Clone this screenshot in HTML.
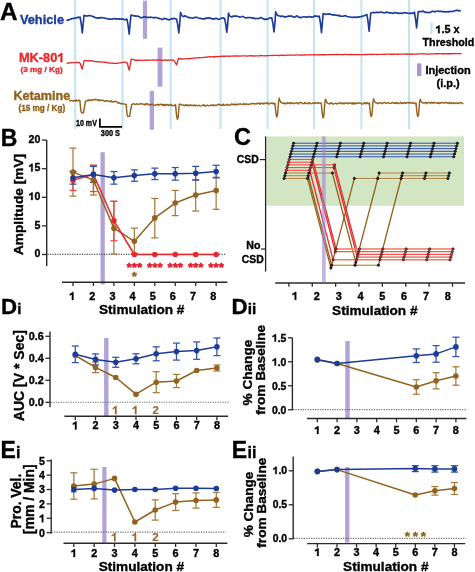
<!DOCTYPE html>
<html><head><meta charset="utf-8"><style>
html,body{margin:0;padding:0;background:#fff;width:475px;height:572px;overflow:hidden}
svg{display:block;will-change:transform}
text{font-family:"Liberation Sans",sans-serif;font-weight:bold}
</style></head><body>
<svg width="475" height="572" viewBox="0 0 475 572">
<rect x="0" y="0" width="475" height="572" fill="#fff"/>
<rect x="142.90" y="0.70" width="4.20" height="38.10" fill="#b2a3d6"/>
<rect x="157.60" y="47.60" width="4.80" height="39.10" fill="#b2a3d6"/>
<rect x="149.70" y="91.00" width="4.30" height="38.70" fill="#b2a3d6"/>
<rect x="100.50" y="152.20" width="4.30" height="132.30" fill="#b2a3d6"/>
<rect x="104.10" y="338.00" width="4.40" height="78.00" fill="#b2a3d6"/>
<rect x="345.30" y="341.00" width="4.40" height="77.50" fill="#b2a3d6"/>
<rect x="102.30" y="467.00" width="4.20" height="75.60" fill="#b2a3d6"/>
<rect x="345.10" y="467.00" width="4.30" height="75.60" fill="#b2a3d6"/>
<rect x="74.20" y="0.00" width="2.00" height="129.00" fill="#c2e4f0" />
<rect x="121.50" y="0.00" width="2.00" height="129.00" fill="#c2e4f0" />
<rect x="169.70" y="0.00" width="2.00" height="129.00" fill="#c2e4f0" />
<rect x="219.50" y="0.00" width="2.00" height="129.00" fill="#c2e4f0" />
<rect x="266.60" y="0.00" width="2.00" height="129.00" fill="#c2e4f0" />
<rect x="313.00" y="0.00" width="2.00" height="129.00" fill="#c2e4f0" />
<rect x="360.40" y="0.00" width="2.00" height="129.00" fill="#c2e4f0" />
<rect x="408.00" y="0.00" width="2.00" height="129.00" fill="#c2e4f0" />
<polyline points="66.50,20.73 67.30,20.18 68.10,20.18 68.90,19.76 69.70,19.58 70.50,19.01 71.30,19.00 72.10,18.51 72.90,18.51 73.70,18.56 74.50,17.89 75.30,18.02 76.10,18.08 76.90,17.65 77.70,17.35 78.50,17.12 79.30,17.75 80.10,17.49 80.10,17.03 81.30,24.08 82.30,32.93 83.20,23.76 84.00,15.23 84.80,15.59 85.90,15.93 87.30,16.05 88.10,15.66 88.90,15.61 89.70,15.76 90.50,15.63 91.30,16.07 92.10,16.26 92.90,16.47 93.70,17.04 94.50,17.06 95.30,17.59 96.10,18.07 96.90,17.98 97.70,17.70 98.50,18.15 99.30,17.77 100.10,17.93 100.90,17.48 101.70,17.63 102.50,17.79 103.30,17.95 104.10,17.93 104.90,18.22 105.70,18.35 106.50,18.49 107.30,18.65 108.10,18.98 108.90,19.16 109.70,18.96 110.50,19.18 111.30,19.21 112.10,19.02 112.90,19.09 113.70,18.82 114.50,18.57 115.30,18.90 116.10,18.62 116.90,19.05 117.70,18.83 118.50,18.77 119.30,19.21 120.10,18.86 120.90,18.97 121.70,19.30 122.50,18.80 123.30,19.18 124.10,19.57 124.90,19.55 125.70,19.60 126.50,19.18 127.00,19.24 128.20,25.89 129.20,34.18 130.10,24.00 130.90,15.28 131.70,15.16 132.80,15.52 134.20,15.90 135.00,15.87 135.80,16.10 136.60,16.03 137.40,16.12 138.20,16.29 139.00,16.63 139.80,17.15 140.60,17.65 141.40,17.86 142.20,17.47 143.00,17.22 143.80,16.85 144.60,16.73 145.40,16.82 146.20,17.45 147.00,17.37 147.80,17.42 148.60,17.35 149.40,17.43 150.20,17.18 151.00,17.31 151.80,17.30 152.60,17.49 153.40,17.84 154.20,17.69 155.00,17.40 155.80,17.48 156.60,17.70 157.40,17.72 158.20,18.38 159.00,18.32 159.80,18.67 160.60,18.75 161.40,19.10 162.20,19.39 163.00,19.47 163.80,18.75 164.60,18.37 165.40,18.72 166.20,18.79 167.00,19.37 167.80,19.36 168.60,19.93 169.40,19.68 170.20,19.38 171.00,18.93 171.80,18.65 172.60,18.89 173.40,18.58 174.20,18.39 175.00,18.55 175.80,19.16 176.60,18.99 177.80,25.13 178.80,32.92 179.70,24.12 180.50,12.35 181.30,14.40 182.40,16.09 183.80,16.69 184.60,15.82 185.40,15.88 186.20,16.48 187.00,16.54 187.80,17.26 188.60,17.68 189.40,17.57 190.20,17.67 191.00,17.85 191.80,18.01 192.60,18.09 193.40,17.95 194.20,17.60 195.00,17.16 195.80,17.44 196.60,17.16 197.40,17.71 198.20,17.99 199.00,18.23 199.80,18.31 200.60,18.37 201.40,18.59 202.20,18.89 203.00,18.99 203.80,18.60 204.60,18.85 205.40,18.57 206.20,18.07 207.00,17.91 207.80,18.32 208.60,18.17 209.40,17.66 210.20,18.23 211.00,18.41 211.80,18.60 212.60,19.11 213.40,18.81 214.20,19.15 215.00,18.65 215.80,18.21 216.60,18.33 217.40,18.98 218.20,19.31 219.00,19.30 219.80,18.95 220.60,18.54 221.40,18.39 222.20,18.00 223.00,17.81 223.80,18.32 224.60,18.44 225.80,24.67 226.80,32.43 227.70,24.19 228.50,13.14 229.30,15.36 230.40,16.52 231.80,17.01 232.60,16.51 233.40,16.10 234.20,16.32 235.00,15.90 235.80,16.09 236.60,16.25 237.40,16.12 238.20,16.51 239.00,16.80 239.80,17.22 240.60,17.01 241.40,16.64 242.20,16.49 243.00,16.47 243.80,16.87 244.60,17.37 245.40,17.85 246.20,17.90 247.00,17.72 247.80,17.61 248.60,17.62 249.40,17.48 250.20,17.50 251.00,17.85 251.80,17.75 252.60,18.11 253.40,17.92 254.20,18.37 255.00,18.81 255.80,18.43 256.60,18.50 257.40,18.79 258.20,18.62 259.00,18.14 259.80,18.15 260.60,17.85 261.40,17.48 262.20,18.29 263.00,18.71 263.80,18.82 264.60,19.50 265.40,19.00 266.20,19.41 267.00,19.04 267.80,19.07 268.60,18.68 269.40,17.95 270.20,17.95 271.00,17.79 271.80,17.88 273.00,24.05 274.00,31.89 274.90,23.08 275.70,11.88 276.50,13.90 277.60,15.24 279.00,15.96 279.80,15.95 280.60,16.53 281.40,16.39 282.20,16.00 283.00,16.36 283.80,16.48 284.60,17.22 285.40,16.78 286.20,16.67 287.00,16.68 287.80,16.32 288.60,15.84 289.40,16.37 290.20,16.18 291.00,15.90 291.80,16.13 292.60,16.79 293.40,16.87 294.20,17.32 295.00,16.85 295.80,16.68 296.60,15.94 297.40,16.00 298.20,16.92 299.00,17.07 299.80,17.40 300.60,17.80 301.40,17.25 302.20,17.05 303.00,17.00 303.80,16.93 304.60,16.99 305.40,16.93 306.20,17.08 307.00,16.95 307.80,17.12 308.60,16.68 309.40,16.63 310.20,16.92 311.00,16.88 311.80,17.19 312.60,17.23 313.40,16.75 314.20,16.16 315.00,16.28 315.80,15.84 316.60,16.40 317.40,16.24 318.20,16.55 319.00,16.14 319.30,16.20 320.50,23.45 321.50,32.59 322.40,22.33 323.20,13.69 324.00,13.76 325.10,14.13 326.50,14.35 327.30,13.96 328.10,13.92 328.90,14.35 329.70,14.03 330.50,14.01 331.30,14.65 332.10,14.81 332.90,14.82 333.70,14.69 334.50,14.87 335.30,15.13 336.10,15.26 336.90,15.17 337.70,15.65 338.50,15.69 339.30,15.34 340.10,16.09 340.90,15.95 341.70,16.26 342.50,16.27 343.30,16.16 344.10,16.00 344.90,15.63 345.70,15.78 346.50,16.28 347.30,16.51 348.10,16.77 348.90,16.80 349.70,17.02 350.50,17.02 351.30,17.23 352.10,17.36 352.90,17.29 353.70,17.31 354.50,17.12 355.30,17.12 356.10,17.59 356.90,17.08 357.70,17.25 358.50,16.68 359.30,17.02 360.10,16.73 360.90,16.69 361.70,16.60 362.50,16.03 363.30,16.03 364.10,15.85 364.90,15.43 365.70,15.05 366.50,14.83 366.90,14.47 368.10,22.01 369.10,31.19 370.00,21.12 370.80,12.96 371.60,12.78 372.70,12.47 374.10,12.59 374.90,12.68 375.70,12.53 376.50,12.15 377.30,12.60 378.10,12.35 378.90,12.31 379.70,12.34 380.50,12.01 381.30,12.24 382.10,12.22 382.90,12.43 383.70,12.83 384.50,12.77 385.30,12.76 386.10,12.28 386.90,12.05 387.70,12.42 388.50,12.71 389.30,12.84 390.10,12.70 390.90,12.83 391.70,12.99 392.50,13.40 393.30,13.29 394.10,12.77 394.90,12.65 395.70,12.63 396.50,12.97 397.30,13.15 398.10,13.08 398.90,13.42 399.70,13.33 400.50,13.02 401.30,13.43 402.10,13.39 402.90,13.25 403.70,12.53 404.50,12.70 405.30,13.04 406.10,12.92 406.90,13.02 407.70,13.19 408.50,13.26 409.30,13.48 410.10,13.17 410.90,13.39 411.70,13.06 412.50,13.43 413.30,13.14 414.10,13.18 414.40,12.10 415.60,19.44 416.60,27.99 417.50,18.85 418.30,11.50 419.10,11.60 420.20,11.60 421.60,11.57 422.40,11.18 423.20,11.13 424.00,11.87 424.80,12.18 425.60,11.97 426.40,12.51 427.20,12.69 428.00,12.35 428.80,12.46 429.60,12.70 430.40,12.17 431.20,11.75 432.00,11.42 432.80,11.27 433.60,11.31 434.40,11.79 435.20,11.83 436.00,11.30 436.80,11.23 437.60,11.30 438.40,11.14 439.20,11.45 440.00,11.34 440.80,11.23 441.60,11.43 442.40,11.65 443.20,11.59 444.00,11.47 444.80,11.94 445.60,11.78 446.40,12.00 447.20,11.71 448.00,11.50 448.80,12.02 449.60,11.45 450.40,11.49 451.20,11.33 452.00,11.48 452.80,11.50 453.60,11.14 454.40,10.76 455.20,10.77 456.00,10.37 456.80,10.38 457.60,10.42 458.40,10.89 459.20,10.45 460.00,10.90 460.80,10.96" fill="none" stroke="#1c3c98" stroke-width="1.65" stroke-linejoin="round" />
<polyline points="66.50,63.21 67.50,63.10 68.50,63.01 69.50,62.90 70.50,62.86 71.50,62.73 72.50,62.68 73.50,62.61 74.50,62.58 75.50,62.57 76.50,62.50 77.50,62.40 78.50,62.33 78.80,62.35 80.30,63.56 81.60,67.81 82.30,69.15 83.10,65.27 84.10,60.60 85.80,60.52 88.30,60.89 89.30,60.72 90.30,60.72 91.30,60.79 92.30,60.96 93.30,61.12 94.30,61.31 95.30,61.48 96.30,61.69 97.30,61.75 98.30,61.83 99.30,61.78 100.30,61.83 101.30,61.99 102.30,62.09 103.30,62.13 104.30,62.25 105.30,62.28 106.30,62.48 107.30,62.71 108.30,62.84 109.30,62.97 110.30,63.12 111.30,63.12 112.30,63.15 113.30,63.22 114.30,63.35 115.30,63.44 116.30,63.37 117.30,63.22 118.30,63.05 119.30,62.91 120.30,62.71 121.30,62.58 122.30,62.36 123.30,62.34 124.30,62.16 125.30,62.14 125.80,62.02 127.30,63.14 128.60,68.51 129.30,70.16 130.10,65.50 131.10,59.27 132.80,59.41 135.30,60.26 136.30,60.28 137.30,60.24 138.30,60.21 139.30,60.28 140.30,60.44 141.30,60.38 142.30,60.30 143.30,60.19 144.30,60.20 145.30,60.20 146.30,60.28 147.30,60.24 148.30,60.15 149.30,60.11 150.30,60.18 151.30,60.13 152.30,60.06 153.30,60.00 154.30,60.06 155.30,60.07 156.30,60.03 157.30,60.04 158.30,60.13 159.30,60.22 160.30,60.19 161.30,60.24 162.30,60.31 163.30,60.22 164.30,60.15 165.30,60.03 166.30,60.19 167.30,60.26 168.30,60.25 169.30,60.14 170.30,60.18 171.30,60.02 172.30,60.04 173.10,60.00 174.60,61.48 175.90,63.93 176.60,64.82 177.40,62.30 178.40,58.46 180.10,58.74 182.60,59.22 183.60,58.93 184.60,58.87 185.60,58.81 186.60,58.64 187.60,58.67 188.60,58.64 189.60,58.71 190.60,58.53 191.60,58.45 192.60,58.30 193.60,58.15 194.60,58.02 195.60,57.90 196.60,57.81 197.60,57.79 198.60,57.73 199.60,57.60 200.60,57.57 201.60,57.64 202.60,57.54 203.60,57.36 204.60,57.36 205.60,57.21 206.60,57.10 207.60,56.99 208.60,56.87 209.60,56.76 210.60,56.79 211.60,56.84 212.60,56.97 213.60,56.77 214.60,56.75 215.60,56.48 216.60,56.48 217.60,56.61 218.60,56.66 219.60,56.53 220.60,56.34 221.60,56.29 222.60,56.22 223.60,56.29 224.60,56.17 225.60,56.27 226.60,56.14 227.60,56.19 228.60,56.25 229.60,56.25 230.60,56.15 231.60,56.09 232.60,56.01 233.60,56.05 234.60,55.90 235.60,55.96 236.60,55.96 237.60,55.91 238.60,55.96 239.60,56.12 240.60,56.04 241.60,55.91 242.60,55.90 243.60,55.85 244.60,55.92 245.60,55.95 246.60,56.06 247.60,56.02 248.60,55.91 249.60,55.93 250.60,55.77 251.60,55.79 252.60,55.84 253.60,55.96 254.60,56.00 255.60,55.92 256.60,55.90 257.60,55.91 258.60,55.84 259.60,55.76 260.60,55.51 261.60,55.61 262.60,55.70 263.60,55.81 264.60,55.83 265.60,55.78 266.60,55.72 267.60,55.66 268.60,55.58 269.60,55.56 270.60,55.41 271.60,55.42 272.60,55.49 273.60,55.35 274.60,55.30 275.60,55.34 276.60,55.31 277.60,55.44 278.60,55.46 279.60,55.47 280.60,55.33 281.60,55.27 282.60,55.29 283.60,55.39 284.60,55.47 285.60,55.38 286.60,55.24 287.60,55.15 288.60,55.12 289.60,55.11 290.60,55.10 291.60,55.13 292.60,55.15 293.60,55.11 294.60,55.18 295.60,54.99 296.60,54.93 297.60,54.91 298.60,55.06 299.60,55.07 300.60,55.08 301.60,55.03 302.60,54.96 303.60,55.05 304.60,54.99 305.60,54.94 306.60,54.91 307.60,54.95 308.60,54.82 309.60,54.78 310.60,54.90 311.60,54.91 312.60,54.92 313.60,54.71 314.60,54.69 315.60,54.75 316.60,54.81 317.60,54.87 318.60,54.76 319.60,54.79 320.60,54.76 321.60,54.86 322.60,54.75 323.60,54.75 324.60,54.65 325.60,54.74 326.60,54.69 327.60,54.64 328.60,54.66 329.60,54.64 330.60,54.50 331.60,54.58 332.60,54.59 333.60,54.54 334.60,54.57 335.60,54.54 336.60,54.54 337.60,54.52 338.60,54.54 339.60,54.57 340.60,54.55 341.60,54.57 342.60,54.58 343.60,54.55 344.60,54.39 345.60,54.41 346.60,54.46 347.60,54.61 348.60,54.58 349.60,54.48 350.60,54.47 351.60,54.51 352.60,54.55 353.60,54.58 354.60,54.53 355.60,54.57 356.60,54.68 357.60,54.63 358.60,54.59 359.60,54.56 360.60,54.65 361.60,54.57 362.60,54.62 363.60,54.56 364.60,54.51 365.60,54.52 366.60,54.51 367.60,54.42 368.60,54.39 369.60,54.47 370.60,54.38 371.60,54.33 372.60,54.46 373.60,54.39 374.60,54.45 375.60,54.39 376.60,54.46 377.60,54.40 378.60,54.35 379.60,54.33 380.60,54.41 381.60,54.42 382.60,54.45 383.60,54.32 384.60,54.34 385.60,54.22 386.60,54.16 387.60,54.09 388.60,54.14 389.60,54.20 390.60,54.29 391.60,54.18 392.60,54.25 393.60,54.27 394.60,54.24 395.60,54.07 396.60,54.06 397.60,54.22 398.60,54.27 399.60,54.19 400.60,54.09 401.60,54.18 402.60,54.06 403.60,54.09 404.60,54.00 405.60,54.06 406.60,54.04 407.60,54.21 408.60,54.16 409.60,54.20 410.60,54.28 411.60,54.27 412.60,54.17 413.60,54.17 414.60,54.18 415.60,54.18 416.60,54.14 417.60,54.03 418.60,53.93 419.60,53.89 420.60,53.88 421.60,53.77 422.60,53.87 423.60,53.95 424.60,53.90 425.60,54.08 426.60,54.00 427.60,54.07 428.60,54.07 429.60,54.03 430.60,53.90 431.60,53.84 432.60,53.82 433.60,53.80 434.60,53.83 435.60,53.78 436.60,53.75 437.60,53.66 438.60,53.72 439.60,53.68 440.60,53.62 441.60,53.72 442.60,53.78 443.60,53.78 444.60,53.76 445.60,53.81 446.60,53.76 447.60,53.75 448.60,53.78 449.60,53.71 450.60,53.74 451.60,53.71 452.60,53.61 453.60,53.66 454.60,53.54 455.60,53.60 456.60,53.60 457.60,53.57 458.60,53.51 459.60,53.59 460.60,53.57 461.60,53.66" fill="none" stroke="#e52a2e" stroke-width="1.35" stroke-linejoin="round" />
<polyline points="69.40,99.81 70.20,100.98 71.00,100.47 71.80,100.61 72.60,100.76 73.40,101.01 74.20,100.37 75.00,100.44 75.80,101.21 76.60,99.97 77.40,100.77 78.20,100.77 79.00,99.93 79.80,100.75 79.90,100.67 80.80,110.52 81.60,112.71 83.40,112.95 84.40,107.26 85.60,101.02 87.40,100.67 88.20,99.82 89.00,100.68 89.80,100.44 90.60,99.94 91.40,100.57 92.20,99.77 93.00,99.82 93.80,99.79 94.60,100.03 95.40,99.24 96.20,99.64 97.00,99.71 97.80,99.98 98.60,100.45 99.40,99.79 100.20,100.63 101.00,100.13 101.80,100.35 102.60,100.12 103.40,100.53 104.20,101.28 105.00,100.92 105.80,101.20 106.60,100.64 107.40,100.71 108.20,100.77 109.00,101.26 109.80,101.42 110.60,101.71 111.40,100.76 112.20,101.80 113.00,102.12 113.80,101.73 114.60,101.13 115.40,101.61 116.20,101.38 117.00,101.82 117.80,103.02 118.60,102.76 119.40,103.01 120.20,103.37 121.00,103.72 121.80,103.49 122.60,103.67 123.40,103.87 124.20,104.14 125.00,104.18 125.80,104.48 126.10,104.18 127.00,114.17 127.80,116.40 129.60,116.35 130.60,110.58 131.80,104.39 133.60,103.65 134.40,104.20 135.20,104.44 136.00,104.11 136.80,103.75 137.60,104.42 138.40,104.40 139.20,104.13 140.00,103.74 140.80,103.84 141.60,104.04 142.40,103.93 143.20,104.13 144.00,104.46 144.80,104.91 145.60,103.71 146.40,104.47 147.20,103.76 148.00,103.91 148.80,104.92 149.60,104.63 150.40,105.14 151.20,104.52 152.00,103.95 152.80,104.51 153.60,104.83 154.40,105.35 155.20,105.45 156.00,104.78 156.80,104.73 157.60,104.33 158.40,105.13 159.20,104.56 160.00,104.51 160.80,104.33 161.60,104.33 162.40,105.29 163.20,104.51 164.00,105.70 164.80,104.48 165.60,105.59 166.40,104.56 167.20,104.41 168.00,105.41 168.80,104.75 169.60,105.45 170.40,104.69 171.20,104.51 172.00,105.53 172.80,105.46 173.60,105.67 174.40,105.50 175.20,104.61 175.60,105.25 176.50,115.09 177.30,119.20 178.10,118.00 179.20,104.69 179.80,103.93 180.40,104.44 181.60,104.92 183.10,105.09 183.90,105.51 184.70,105.75 185.50,104.73 186.30,105.06 187.10,105.66 187.90,104.88 188.70,105.86 189.50,105.35 190.30,104.76 191.10,105.20 191.90,105.50 192.70,105.32 193.50,105.67 194.30,104.93 195.10,105.86 195.90,105.26 196.70,105.66 197.50,105.65 198.30,105.36 199.10,105.33 199.90,105.90 200.70,106.10 201.50,105.85 202.30,105.52 203.10,105.11 203.90,104.76 204.70,106.02 205.50,105.61 206.30,105.76 207.10,105.04 207.90,105.40 208.70,105.89 209.50,105.67 210.30,105.32 211.10,104.88 211.90,105.03 212.70,105.64 213.50,104.90 214.30,105.31 215.10,105.17 215.90,105.55 216.70,105.41 217.50,104.65 218.30,104.23 219.10,104.57 219.90,104.77 220.70,104.97 221.50,105.27 222.30,105.34 223.10,104.13 223.90,105.22 224.70,105.16 225.50,105.21 226.30,104.77 227.10,104.33 227.90,105.11 228.70,105.03 229.50,104.83 230.30,105.13 231.10,104.31 231.90,103.92 232.70,104.55 233.50,104.86 234.30,104.00 235.10,104.75 235.90,104.98 236.70,103.97 237.50,104.47 238.30,104.55 239.10,104.22 239.90,103.84 240.70,103.88 241.50,104.55 242.30,104.58 243.10,104.09 243.90,103.54 244.70,104.52 245.50,104.45 246.30,103.67 247.10,104.13 247.90,104.55 248.70,104.51 249.50,103.97 250.30,103.89 251.10,104.02 251.90,103.43 252.70,103.41 253.50,103.37 254.30,104.07 255.10,103.58 255.90,103.83 256.70,103.58 257.50,103.72 258.30,103.18 259.10,103.01 259.90,104.31 260.70,103.42 261.50,103.02 262.30,103.73 263.10,103.92 263.90,103.01 264.70,103.60 265.50,103.22 266.30,103.44 267.10,102.72 267.90,102.71 268.70,104.03 269.50,103.83 270.30,103.28 271.10,103.38 271.90,102.95 272.70,103.66 273.50,103.16 274.30,103.88 275.00,103.36 275.90,112.82 276.70,116.92 277.50,115.28 278.60,101.53 279.20,98.09 279.80,100.07 281.00,102.52 282.50,103.00 283.30,103.25 284.10,103.68 284.90,103.09 285.70,103.77 286.50,103.71 287.30,102.52 288.10,103.26 288.90,102.97 289.70,102.57 290.50,103.74 291.30,102.75 292.10,103.17 292.90,103.27 293.70,103.70 294.50,103.29 295.30,102.90 296.10,102.97 296.90,102.55 297.70,103.68 298.50,103.70 299.30,102.62 300.10,102.36 300.90,102.67 301.70,102.82 302.50,103.61 303.30,103.62 304.10,103.54 304.90,102.45 305.70,103.50 306.50,103.40 307.30,103.33 308.10,103.81 308.90,102.53 309.70,102.66 310.50,103.53 311.30,103.80 312.10,103.45 312.90,102.93 313.70,103.36 314.50,103.60 315.30,102.70 316.10,103.02 316.90,102.94 317.70,102.77 318.50,103.28 319.30,102.86 320.10,102.97 320.90,102.85 321.30,103.43 322.20,113.33 323.00,117.97 323.80,116.32 324.90,101.88 325.50,99.10 326.10,100.62 327.30,103.18 328.80,103.63 329.60,104.04 330.40,102.99 331.20,103.42 332.00,102.92 332.80,104.08 333.60,103.95 334.40,103.65 335.20,103.40 336.00,103.23 336.80,103.90 337.60,103.41 338.40,103.62 339.20,102.93 340.00,103.04 340.80,102.80 341.60,103.72 342.40,103.49 343.20,102.91 344.00,103.92 344.80,103.07 345.60,103.27 346.40,102.90 347.20,103.06 348.00,103.85 348.80,103.13 349.60,102.89 350.40,103.34 351.20,103.09 352.00,103.91 352.80,102.80 353.60,104.00 354.40,102.71 355.20,103.87 356.00,103.55 356.80,102.90 357.60,103.27 358.40,103.00 359.20,102.95 360.00,102.87 360.80,103.09 361.60,103.96 362.40,103.97 363.20,103.86 364.00,102.69 364.80,102.96 365.60,103.80 366.40,102.62 367.20,103.55 368.00,102.94 368.80,103.89 369.40,103.02 370.30,112.78 371.10,116.64 371.90,115.21 373.00,101.64 373.60,98.82 374.20,100.49 375.40,102.60 376.90,103.14 377.70,103.74 378.50,102.76 379.30,103.25 380.10,102.64 380.90,102.69 381.70,103.51 382.50,103.42 383.30,102.69 384.10,102.52 384.90,102.53 385.70,103.25 386.50,103.09 387.30,102.77 388.10,102.67 388.90,103.24 389.70,103.36 390.50,103.50 391.30,103.18 392.10,102.64 392.90,102.44 393.70,103.37 394.50,102.91 395.30,103.34 396.10,102.41 396.90,103.46 397.70,102.79 398.50,103.49 399.30,103.52 400.10,102.99 400.90,102.32 401.70,103.57 402.50,102.97 403.30,103.52 404.10,102.67 404.90,102.56 405.70,103.46 406.50,102.81 407.30,102.53 408.10,102.82 408.90,103.13 409.70,102.31 410.50,103.03 411.30,102.92 412.10,103.02 412.90,102.47 413.70,103.30 414.50,103.44 415.30,103.51 416.00,102.93 416.90,112.53 417.70,116.45 418.50,115.25 419.60,101.62 420.20,99.15 420.80,100.78 422.00,102.60 423.50,103.01 424.30,103.04 425.10,103.05 425.90,102.33 426.70,103.65 427.50,102.61 428.30,102.56 429.10,102.44 429.90,102.65 430.70,103.44 431.50,102.34 432.30,102.44 433.10,103.28 433.90,102.57 434.70,102.32 435.50,103.14 436.30,103.11 437.10,103.03 437.90,103.28 438.70,102.44 439.50,103.52 440.30,103.30 441.10,102.36 441.90,102.47 442.70,102.99 443.50,103.00 444.30,102.69 445.10,102.47 445.90,102.87 446.70,102.49 447.50,103.13 448.30,103.51 449.10,102.51 449.90,103.10 450.70,103.35 451.50,102.53 452.30,103.46 453.10,103.61 453.90,102.84 454.70,102.89 455.50,103.48 456.30,103.04 457.10,102.85 457.90,103.62 458.70,103.39 459.50,102.77 460.30,102.64 461.10,102.77 461.90,102.91 462.70,103.67 463.50,103.43" fill="none" stroke="#93621c" stroke-width="1.45" stroke-linejoin="round" />
<text x="0.10" y="19.60" font-size="24.3" fill="#000" stroke="#000" stroke-width="0.35" text-anchor="start" >A</text>
<text x="19.90" y="24.10" font-size="12.8" fill="#1c3c98" stroke="#1c3c98" stroke-width="0.35" text-anchor="start" >Vehicle</text>
<text x="18.90" y="62.20" font-size="12.8" fill="#e52a2e" stroke="#e52a2e" stroke-width="0.35">MK-80</text>
<path d="M0.392,0 L0.252,0 L0.252,-0.512 Q0.16,-0.45 0.052,-0.425 L0.052,-0.55 Q0.2,-0.6 0.285,-0.716 L0.392,-0.716 Z" transform="translate(57.31,62.20) scale(12.8)" fill="#e52a2e" stroke="#e52a2e" stroke-width="0.0273"/>
<text x="20.50" y="72.30" font-size="8.1" fill="#e52a2e" stroke="#e52a2e" stroke-width="0.35" text-anchor="start" textLength="42.2" lengthAdjust="spacing">(3 mg / Kg)</text>
<text x="13.50" y="100.00" font-size="12.6" fill="#93621c" stroke="#93621c" stroke-width="0.35" text-anchor="start" >Ketamine</text>
<text x="18.60" y="110.60" font-size="8.2" fill="#93621c" stroke="#93621c" stroke-width="0.35" text-anchor="start" textLength="46.6" lengthAdjust="spacing">(15 mg / Kg)</text>
<text x="76.00" y="126.20" font-size="9.2" fill="#000" stroke="#000" stroke-width="0.35" text-anchor="start" textLength="20.9" lengthAdjust="spacingAndGlyphs">10 mV</text>
<text x="100.80" y="136.00" font-size="9.0" fill="#000" stroke="#000" stroke-width="0.35" text-anchor="start" textLength="19.2" lengthAdjust="spacingAndGlyphs">300 S</text>
<polyline points="99.90,118.60 99.90,126.90 122.00,126.90" fill="none" stroke="#000" stroke-width="1.7" stroke-linejoin="round" stroke-linejoin="miter"/>
<rect x="430.40" y="22.40" width="2.20" height="12.00" fill="#c2e4f0" />
<path d="M0.392,0 L0.252,0 L0.252,-0.512 Q0.16,-0.45 0.052,-0.425 L0.052,-0.55 Q0.2,-0.6 0.285,-0.716 L0.392,-0.716 Z" transform="translate(435.40,33.20) scale(10.8)" fill="#000" stroke="#000" stroke-width="0.0324"/>
<text x="441.41" y="33.20" font-size="10.8" fill="#000" stroke="#000" stroke-width="0.35">.5 x</text>
<text x="422.60" y="46.20" font-size="10.7" fill="#000" stroke="#000" stroke-width="0.35" text-anchor="start" textLength="51.6" lengthAdjust="spacing">Threshold</text>
<rect x="417.00" y="63.40" width="4.40" height="12.60" fill="#a897d0" />
<text x="425.40" y="73.80" font-size="11" fill="#000" stroke="#000" stroke-width="0.35" text-anchor="start" >Injection</text>
<text x="448.10" y="86.60" font-size="11" fill="#000" stroke="#000" stroke-width="0.35" text-anchor="middle" >(i.p.)</text>
<text x="0.80" y="145.60" font-size="23" fill="#000" stroke="#000" stroke-width="0.35" text-anchor="start" >B</text>
<line x1="46.70" y1="140.10" x2="46.70" y2="266.00" stroke="#2a2a2a" stroke-width="1.4" />
<line x1="41.90" y1="140.10" x2="46.70" y2="140.10" stroke="#2a2a2a" stroke-width="1.3" />
<text x="40.30" y="142.80" font-size="10.6" fill="#000" stroke="#000" stroke-width="0.35" text-anchor="end" >20</text>
<line x1="41.90" y1="168.70" x2="46.70" y2="168.70" stroke="#2a2a2a" stroke-width="1.3" />
<path d="M0.392,0 L0.252,0 L0.252,-0.512 Q0.16,-0.45 0.052,-0.425 L0.052,-0.55 Q0.2,-0.6 0.285,-0.716 L0.392,-0.716 Z" transform="translate(28.51,171.40) scale(10.6)" fill="#000" stroke="#000" stroke-width="0.0330"/>
<text x="34.40" y="171.40" font-size="10.6" fill="#000" stroke="#000" stroke-width="0.35">5</text>
<line x1="41.90" y1="197.30" x2="46.70" y2="197.30" stroke="#2a2a2a" stroke-width="1.3" />
<path d="M0.392,0 L0.252,0 L0.252,-0.512 Q0.16,-0.45 0.052,-0.425 L0.052,-0.55 Q0.2,-0.6 0.285,-0.716 L0.392,-0.716 Z" transform="translate(28.51,200.00) scale(10.6)" fill="#000" stroke="#000" stroke-width="0.0330"/>
<text x="34.40" y="200.00" font-size="10.6" fill="#000" stroke="#000" stroke-width="0.35">0</text>
<line x1="41.90" y1="225.90" x2="46.70" y2="225.90" stroke="#2a2a2a" stroke-width="1.3" />
<text x="40.30" y="228.60" font-size="10.6" fill="#000" stroke="#000" stroke-width="0.35" text-anchor="end" >5</text>
<line x1="41.90" y1="254.50" x2="46.70" y2="254.50" stroke="#2a2a2a" stroke-width="1.3" />
<text x="40.30" y="257.20" font-size="10.6" fill="#000" stroke="#000" stroke-width="0.35" text-anchor="end" >0</text>
<line x1="62.00" y1="282.20" x2="227.40" y2="282.20" stroke="#2a2a2a" stroke-width="1.4" />
<line x1="73.00" y1="282.20" x2="73.00" y2="286.00" stroke="#2a2a2a" stroke-width="1.3" />
<line x1="93.45" y1="282.20" x2="93.45" y2="286.00" stroke="#2a2a2a" stroke-width="1.3" />
<line x1="113.90" y1="282.20" x2="113.90" y2="286.00" stroke="#2a2a2a" stroke-width="1.3" />
<line x1="134.35" y1="282.20" x2="134.35" y2="286.00" stroke="#2a2a2a" stroke-width="1.3" />
<line x1="154.80" y1="282.20" x2="154.80" y2="286.00" stroke="#2a2a2a" stroke-width="1.3" />
<line x1="175.25" y1="282.20" x2="175.25" y2="286.00" stroke="#2a2a2a" stroke-width="1.3" />
<line x1="195.70" y1="282.20" x2="195.70" y2="286.00" stroke="#2a2a2a" stroke-width="1.3" />
<line x1="216.15" y1="282.20" x2="216.15" y2="286.00" stroke="#2a2a2a" stroke-width="1.3" />
<path d="M0.392,0 L0.252,0 L0.252,-0.512 Q0.16,-0.45 0.052,-0.425 L0.052,-0.55 Q0.2,-0.6 0.285,-0.716 L0.392,-0.716 Z" transform="translate(69.17,300.00) scale(10.9)" fill="#000" stroke="#000" stroke-width="0.0321"/>
<text x="92.34" y="300.00" font-size="10.9" fill="#000" stroke="#000" stroke-width="0.35" text-anchor="middle" >2</text>
<text x="112.48" y="300.00" font-size="10.9" fill="#000" stroke="#000" stroke-width="0.35" text-anchor="middle" >3</text>
<text x="132.62" y="300.00" font-size="10.9" fill="#000" stroke="#000" stroke-width="0.35" text-anchor="middle" >4</text>
<text x="152.76" y="300.00" font-size="10.9" fill="#000" stroke="#000" stroke-width="0.35" text-anchor="middle" >5</text>
<text x="172.90" y="300.00" font-size="10.9" fill="#000" stroke="#000" stroke-width="0.35" text-anchor="middle" >6</text>
<text x="193.04" y="300.00" font-size="10.9" fill="#000" stroke="#000" stroke-width="0.35" text-anchor="middle" >7</text>
<text x="213.18" y="300.00" font-size="10.9" fill="#000" stroke="#000" stroke-width="0.35" text-anchor="middle" >8</text>
<text x="141.70" y="314.30" font-size="13.6" fill="#000" stroke="#000" stroke-width="0.35" text-anchor="middle" >Stimulation #</text>
<text transform="translate(22.6,204.5) rotate(-90)" font-size="13.7" fill="#000" stroke="#000" stroke-width="0.35" text-anchor="middle">Amplitude [mV]</text>
<line x1="47.50" y1="254.30" x2="226.00" y2="254.30" stroke="#222" stroke-width="1.1" stroke-dasharray="1.2 1.25"/>
<line x1="73.00" y1="148.11" x2="73.00" y2="196.16" stroke="#a57b3b" stroke-width="1.25" />
<line x1="69.50" y1="148.11" x2="76.50" y2="148.11" stroke="#a57b3b" stroke-width="1.25" />
<line x1="69.50" y1="196.16" x2="76.50" y2="196.16" stroke="#a57b3b" stroke-width="1.25" />
<line x1="93.45" y1="165.27" x2="93.45" y2="195.01" stroke="#a57b3b" stroke-width="1.25" />
<line x1="89.95" y1="165.27" x2="96.95" y2="165.27" stroke="#a57b3b" stroke-width="1.25" />
<line x1="89.95" y1="195.01" x2="96.95" y2="195.01" stroke="#a57b3b" stroke-width="1.25" />
<line x1="113.90" y1="201.30" x2="113.90" y2="253.93" stroke="#a57b3b" stroke-width="1.25" />
<line x1="110.40" y1="201.30" x2="117.40" y2="201.30" stroke="#a57b3b" stroke-width="1.25" />
<line x1="110.40" y1="253.93" x2="117.40" y2="253.93" stroke="#a57b3b" stroke-width="1.25" />
<line x1="134.35" y1="228.19" x2="134.35" y2="253.36" stroke="#a57b3b" stroke-width="1.25" />
<line x1="130.85" y1="228.19" x2="137.85" y2="228.19" stroke="#a57b3b" stroke-width="1.25" />
<line x1="130.85" y1="253.36" x2="137.85" y2="253.36" stroke="#a57b3b" stroke-width="1.25" />
<line x1="154.80" y1="198.44" x2="154.80" y2="237.91" stroke="#a57b3b" stroke-width="1.25" />
<line x1="151.30" y1="198.44" x2="158.30" y2="198.44" stroke="#a57b3b" stroke-width="1.25" />
<line x1="151.30" y1="237.91" x2="158.30" y2="237.91" stroke="#a57b3b" stroke-width="1.25" />
<line x1="175.25" y1="190.44" x2="175.25" y2="215.60" stroke="#a57b3b" stroke-width="1.25" />
<line x1="171.75" y1="190.44" x2="178.75" y2="190.44" stroke="#a57b3b" stroke-width="1.25" />
<line x1="171.75" y1="215.60" x2="178.75" y2="215.60" stroke="#a57b3b" stroke-width="1.25" />
<line x1="195.70" y1="179.57" x2="195.70" y2="211.03" stroke="#a57b3b" stroke-width="1.25" />
<line x1="192.20" y1="179.57" x2="199.20" y2="179.57" stroke="#a57b3b" stroke-width="1.25" />
<line x1="192.20" y1="211.03" x2="199.20" y2="211.03" stroke="#a57b3b" stroke-width="1.25" />
<line x1="216.15" y1="177.28" x2="216.15" y2="209.31" stroke="#a57b3b" stroke-width="1.25" />
<line x1="212.65" y1="177.28" x2="219.65" y2="177.28" stroke="#a57b3b" stroke-width="1.25" />
<line x1="212.65" y1="209.31" x2="219.65" y2="209.31" stroke="#a57b3b" stroke-width="1.25" />
<line x1="73.00" y1="171.56" x2="73.00" y2="190.44" stroke="#e8484a" stroke-width="1.25" />
<line x1="69.50" y1="171.56" x2="76.50" y2="171.56" stroke="#e8484a" stroke-width="1.25" />
<line x1="69.50" y1="190.44" x2="76.50" y2="190.44" stroke="#e8484a" stroke-width="1.25" />
<line x1="93.45" y1="165.27" x2="93.45" y2="191.58" stroke="#e8484a" stroke-width="1.25" />
<line x1="89.95" y1="165.27" x2="96.95" y2="165.27" stroke="#e8484a" stroke-width="1.25" />
<line x1="89.95" y1="191.58" x2="96.95" y2="191.58" stroke="#e8484a" stroke-width="1.25" />
<line x1="113.90" y1="201.30" x2="113.90" y2="240.77" stroke="#e8484a" stroke-width="1.25" />
<line x1="110.40" y1="201.30" x2="117.40" y2="201.30" stroke="#e8484a" stroke-width="1.25" />
<line x1="110.40" y1="240.77" x2="117.40" y2="240.77" stroke="#e8484a" stroke-width="1.25" />
<line x1="73.00" y1="171.56" x2="73.00" y2="184.14" stroke="#3050aa" stroke-width="1.25" />
<line x1="69.50" y1="171.56" x2="76.50" y2="171.56" stroke="#3050aa" stroke-width="1.25" />
<line x1="69.50" y1="184.14" x2="76.50" y2="184.14" stroke="#3050aa" stroke-width="1.25" />
<line x1="93.45" y1="166.41" x2="93.45" y2="182.43" stroke="#3050aa" stroke-width="1.25" />
<line x1="89.95" y1="166.41" x2="96.95" y2="166.41" stroke="#3050aa" stroke-width="1.25" />
<line x1="89.95" y1="182.43" x2="96.95" y2="182.43" stroke="#3050aa" stroke-width="1.25" />
<line x1="113.90" y1="171.56" x2="113.90" y2="184.14" stroke="#3050aa" stroke-width="1.25" />
<line x1="110.40" y1="171.56" x2="117.40" y2="171.56" stroke="#3050aa" stroke-width="1.25" />
<line x1="110.40" y1="184.14" x2="117.40" y2="184.14" stroke="#3050aa" stroke-width="1.25" />
<line x1="134.35" y1="169.84" x2="134.35" y2="181.28" stroke="#3050aa" stroke-width="1.25" />
<line x1="130.85" y1="169.84" x2="137.85" y2="169.84" stroke="#3050aa" stroke-width="1.25" />
<line x1="130.85" y1="181.28" x2="137.85" y2="181.28" stroke="#3050aa" stroke-width="1.25" />
<line x1="154.80" y1="168.13" x2="154.80" y2="179.57" stroke="#3050aa" stroke-width="1.25" />
<line x1="151.30" y1="168.13" x2="158.30" y2="168.13" stroke="#3050aa" stroke-width="1.25" />
<line x1="151.30" y1="179.57" x2="158.30" y2="179.57" stroke="#3050aa" stroke-width="1.25" />
<line x1="175.25" y1="167.56" x2="175.25" y2="180.14" stroke="#3050aa" stroke-width="1.25" />
<line x1="171.75" y1="167.56" x2="178.75" y2="167.56" stroke="#3050aa" stroke-width="1.25" />
<line x1="171.75" y1="180.14" x2="178.75" y2="180.14" stroke="#3050aa" stroke-width="1.25" />
<line x1="195.70" y1="166.41" x2="195.70" y2="180.14" stroke="#3050aa" stroke-width="1.25" />
<line x1="192.20" y1="166.41" x2="199.20" y2="166.41" stroke="#3050aa" stroke-width="1.25" />
<line x1="192.20" y1="180.14" x2="199.20" y2="180.14" stroke="#3050aa" stroke-width="1.25" />
<line x1="216.15" y1="165.27" x2="216.15" y2="177.85" stroke="#3050aa" stroke-width="1.25" />
<line x1="212.65" y1="165.27" x2="219.65" y2="165.27" stroke="#3050aa" stroke-width="1.25" />
<line x1="212.65" y1="177.85" x2="219.65" y2="177.85" stroke="#3050aa" stroke-width="1.25" />
<polyline points="73.00,172.13 93.45,180.14 113.90,228.19 134.35,241.34 154.80,217.89 175.25,203.02 195.70,195.01 216.15,190.44" fill="none" stroke="#93621c" stroke-width="1.5" stroke-linejoin="round" />
<polyline points="73.00,180.14 93.45,174.42 113.90,220.75 134.35,254.50 154.80,254.50 175.25,254.50 195.70,254.50 216.15,254.50" fill="none" stroke="#e52a2e" stroke-width="1.5" stroke-linejoin="round" />
<polyline points="73.00,177.85 93.45,174.42 113.90,177.85 134.35,175.56 154.80,173.85 175.25,173.85 195.70,173.28 216.15,171.56" fill="none" stroke="#1c3c98" stroke-width="1.5" stroke-linejoin="round" />
<circle cx="73.00" cy="172.13" r="2.8" fill="#93621c"/>
<circle cx="93.45" cy="180.14" r="2.8" fill="#93621c"/>
<circle cx="113.90" cy="228.19" r="2.8" fill="#93621c"/>
<circle cx="134.35" cy="241.34" r="2.8" fill="#93621c"/>
<circle cx="154.80" cy="217.89" r="2.8" fill="#93621c"/>
<circle cx="175.25" cy="203.02" r="2.8" fill="#93621c"/>
<circle cx="195.70" cy="195.01" r="2.8" fill="#93621c"/>
<circle cx="216.15" cy="190.44" r="2.8" fill="#93621c"/>
<circle cx="73.00" cy="180.14" r="2.8" fill="#e52a2e"/>
<circle cx="93.45" cy="174.42" r="2.8" fill="#e52a2e"/>
<circle cx="113.90" cy="220.75" r="2.8" fill="#e52a2e"/>
<circle cx="134.35" cy="254.50" r="2.8" fill="#e52a2e"/>
<circle cx="154.80" cy="254.50" r="2.8" fill="#e52a2e"/>
<circle cx="175.25" cy="254.50" r="2.8" fill="#e52a2e"/>
<circle cx="195.70" cy="254.50" r="2.8" fill="#e52a2e"/>
<circle cx="216.15" cy="254.50" r="2.8" fill="#e52a2e"/>
<circle cx="73.00" cy="177.85" r="2.8" fill="#1c3c98"/>
<circle cx="93.45" cy="174.42" r="2.8" fill="#1c3c98"/>
<circle cx="113.90" cy="177.85" r="2.8" fill="#1c3c98"/>
<circle cx="134.35" cy="175.56" r="2.8" fill="#1c3c98"/>
<circle cx="154.80" cy="173.85" r="2.8" fill="#1c3c98"/>
<circle cx="175.25" cy="173.85" r="2.8" fill="#1c3c98"/>
<circle cx="195.70" cy="173.28" r="2.8" fill="#1c3c98"/>
<circle cx="216.15" cy="171.56" r="2.8" fill="#1c3c98"/>
<text x="134.35" y="271.50" font-size="13.4" fill="#e3121f" stroke="#e3121f" stroke-width="0.35" text-anchor="middle" >***</text>
<text x="154.80" y="271.50" font-size="13.4" fill="#e3121f" stroke="#e3121f" stroke-width="0.35" text-anchor="middle" >***</text>
<text x="175.25" y="271.50" font-size="13.4" fill="#e3121f" stroke="#e3121f" stroke-width="0.35" text-anchor="middle" >***</text>
<text x="195.70" y="271.50" font-size="13.4" fill="#e3121f" stroke="#e3121f" stroke-width="0.35" text-anchor="middle" >***</text>
<text x="216.15" y="271.50" font-size="13.4" fill="#e3121f" stroke="#e3121f" stroke-width="0.35" text-anchor="middle" >***</text>
<text x="134.35" y="280.80" font-size="13.4" fill="#93621c" stroke="#93621c" stroke-width="0.35" text-anchor="middle" >*</text>
<text x="234.00" y="145.00" font-size="23.5" fill="#000" stroke="#000" stroke-width="0.35" text-anchor="start" >C</text>
<rect x="266.50" y="136.40" width="197.50" height="69.40" fill="#d3e6c4" />
<line x1="265.60" y1="136.40" x2="265.60" y2="271.60" stroke="#222" stroke-width="1.3" />
<line x1="259.80" y1="159.60" x2="265.60" y2="159.60" stroke="#222" stroke-width="1.2" />
<text x="258.80" y="163.00" font-size="10.4" fill="#000" stroke="#000" stroke-width="0.35" text-anchor="end" >CSD</text>
<line x1="261.00" y1="249.00" x2="265.60" y2="249.00" stroke="#222" stroke-width="1.2" />
<text x="260.40" y="249.20" font-size="10.6" fill="#000" stroke="#000" stroke-width="0.35" text-anchor="end" >No</text>
<text x="263.80" y="262.60" font-size="10.4" fill="#000" stroke="#000" stroke-width="0.35" text-anchor="end" >CSD</text>
<line x1="275.20" y1="283.00" x2="465.00" y2="283.00" stroke="#2a2a2a" stroke-width="1.4" />
<line x1="288.90" y1="283.00" x2="288.90" y2="286.80" stroke="#2a2a2a" stroke-width="1.3" />
<line x1="312.27" y1="283.00" x2="312.27" y2="286.80" stroke="#2a2a2a" stroke-width="1.3" />
<line x1="335.64" y1="283.00" x2="335.64" y2="286.80" stroke="#2a2a2a" stroke-width="1.3" />
<line x1="359.01" y1="283.00" x2="359.01" y2="286.80" stroke="#2a2a2a" stroke-width="1.3" />
<line x1="382.38" y1="283.00" x2="382.38" y2="286.80" stroke="#2a2a2a" stroke-width="1.3" />
<line x1="405.75" y1="283.00" x2="405.75" y2="286.80" stroke="#2a2a2a" stroke-width="1.3" />
<line x1="429.12" y1="283.00" x2="429.12" y2="286.80" stroke="#2a2a2a" stroke-width="1.3" />
<line x1="452.49" y1="283.00" x2="452.49" y2="286.80" stroke="#2a2a2a" stroke-width="1.3" />
<path d="M0.392,0 L0.252,0 L0.252,-0.512 Q0.16,-0.45 0.052,-0.425 L0.052,-0.55 Q0.2,-0.6 0.285,-0.716 L0.392,-0.716 Z" transform="translate(291.97,299.80) scale(10.9)" fill="#000" stroke="#000" stroke-width="0.0321"/>
<text x="316.83" y="299.80" font-size="10.9" fill="#000" stroke="#000" stroke-width="0.35" text-anchor="middle" >2</text>
<text x="338.66" y="299.80" font-size="10.9" fill="#000" stroke="#000" stroke-width="0.35" text-anchor="middle" >3</text>
<text x="360.49" y="299.80" font-size="10.9" fill="#000" stroke="#000" stroke-width="0.35" text-anchor="middle" >4</text>
<text x="382.32" y="299.80" font-size="10.9" fill="#000" stroke="#000" stroke-width="0.35" text-anchor="middle" >5</text>
<text x="404.15" y="299.80" font-size="10.9" fill="#000" stroke="#000" stroke-width="0.35" text-anchor="middle" >6</text>
<text x="425.98" y="299.80" font-size="10.9" fill="#000" stroke="#000" stroke-width="0.35" text-anchor="middle" >7</text>
<text x="447.81" y="299.80" font-size="10.9" fill="#000" stroke="#000" stroke-width="0.35" text-anchor="middle" >8</text>
<text x="374.80" y="314.90" font-size="13.6" fill="#000" stroke="#000" stroke-width="0.35" text-anchor="middle" >Stimulation #</text>
<line x1="284.11" y1="178.43" x2="307.51" y2="178.43" stroke="#fbfbe6" stroke-width="2.1" opacity="0.6"/>
<line x1="354.31" y1="178.43" x2="377.71" y2="178.43" stroke="#fbfbe6" stroke-width="2.1" opacity="0.6"/>
<line x1="377.71" y1="178.43" x2="401.11" y2="178.43" stroke="#fbfbe6" stroke-width="2.1" opacity="0.6"/>
<line x1="401.11" y1="178.43" x2="424.51" y2="178.43" stroke="#fbfbe6" stroke-width="2.1" opacity="0.6"/>
<line x1="424.51" y1="178.43" x2="447.91" y2="178.43" stroke="#fbfbe6" stroke-width="2.1" opacity="0.6"/>
<line x1="284.11" y1="178.43" x2="307.51" y2="178.43" stroke="#a98442" stroke-width="1.15" />
<line x1="307.51" y1="178.43" x2="330.91" y2="267.93" stroke="#93621c" stroke-width="1.3" stroke-linecap="round"/>
<line x1="330.91" y1="267.93" x2="354.31" y2="178.43" stroke="#93621c" stroke-width="1.3" stroke-linecap="round"/>
<line x1="354.31" y1="178.43" x2="377.71" y2="178.43" stroke="#a98442" stroke-width="1.15" />
<line x1="377.71" y1="178.43" x2="401.11" y2="178.43" stroke="#a98442" stroke-width="1.15" />
<line x1="401.11" y1="178.43" x2="424.51" y2="178.43" stroke="#a98442" stroke-width="1.15" />
<line x1="424.51" y1="178.43" x2="447.91" y2="178.43" stroke="#a98442" stroke-width="1.15" />
<line x1="284.84" y1="175.72" x2="308.24" y2="175.72" stroke="#fbfbe6" stroke-width="2.1" opacity="0.6"/>
<line x1="331.64" y1="265.22" x2="355.04" y2="265.22" stroke="#fbfbe6" stroke-width="2.1" opacity="0.6"/>
<line x1="355.04" y1="265.22" x2="378.44" y2="265.22" stroke="#fbfbe6" stroke-width="2.1" opacity="0.6"/>
<line x1="401.84" y1="175.72" x2="425.24" y2="175.72" stroke="#fbfbe6" stroke-width="2.1" opacity="0.6"/>
<line x1="425.24" y1="175.72" x2="448.64" y2="175.72" stroke="#fbfbe6" stroke-width="2.1" opacity="0.6"/>
<line x1="284.84" y1="175.72" x2="308.24" y2="175.72" stroke="#a98442" stroke-width="1.15" />
<line x1="308.24" y1="175.72" x2="331.64" y2="265.22" stroke="#93621c" stroke-width="1.3" stroke-linecap="round"/>
<line x1="331.64" y1="265.22" x2="355.04" y2="265.22" stroke="#a98442" stroke-width="1.15" />
<line x1="355.04" y1="265.22" x2="378.44" y2="265.22" stroke="#a98442" stroke-width="1.15" />
<line x1="378.44" y1="265.22" x2="401.84" y2="175.72" stroke="#93621c" stroke-width="1.3" stroke-linecap="round"/>
<line x1="401.84" y1="175.72" x2="425.24" y2="175.72" stroke="#a98442" stroke-width="1.15" />
<line x1="425.24" y1="175.72" x2="448.64" y2="175.72" stroke="#a98442" stroke-width="1.15" />
<line x1="285.57" y1="173.01" x2="308.97" y2="173.01" stroke="#fbfbe6" stroke-width="2.1" opacity="0.6"/>
<line x1="308.97" y1="173.01" x2="332.37" y2="173.01" stroke="#fbfbe6" stroke-width="2.1" opacity="0.6"/>
<line x1="379.17" y1="173.01" x2="402.57" y2="173.01" stroke="#fbfbe6" stroke-width="2.1" opacity="0.6"/>
<line x1="402.57" y1="173.01" x2="425.97" y2="173.01" stroke="#fbfbe6" stroke-width="2.1" opacity="0.6"/>
<line x1="425.97" y1="173.01" x2="449.37" y2="173.01" stroke="#fbfbe6" stroke-width="2.1" opacity="0.6"/>
<line x1="285.57" y1="173.01" x2="308.97" y2="173.01" stroke="#a98442" stroke-width="1.15" />
<line x1="308.97" y1="173.01" x2="332.37" y2="173.01" stroke="#a98442" stroke-width="1.15" />
<line x1="332.37" y1="173.01" x2="355.77" y2="262.51" stroke="#93621c" stroke-width="1.3" stroke-linecap="round"/>
<line x1="355.77" y1="262.51" x2="379.17" y2="173.01" stroke="#93621c" stroke-width="1.3" stroke-linecap="round"/>
<line x1="379.17" y1="173.01" x2="402.57" y2="173.01" stroke="#a98442" stroke-width="1.15" />
<line x1="402.57" y1="173.01" x2="425.97" y2="173.01" stroke="#a98442" stroke-width="1.15" />
<line x1="425.97" y1="173.01" x2="449.37" y2="173.01" stroke="#a98442" stroke-width="1.15" />
<line x1="286.30" y1="170.30" x2="309.70" y2="170.30" stroke="#fbfbe6" stroke-width="2.1" opacity="0.6"/>
<line x1="333.10" y1="259.80" x2="356.50" y2="259.80" stroke="#fbfbe6" stroke-width="2.1" opacity="0.6"/>
<line x1="356.50" y1="259.80" x2="379.90" y2="259.80" stroke="#fbfbe6" stroke-width="2.1" opacity="0.6"/>
<line x1="379.90" y1="259.80" x2="403.30" y2="259.80" stroke="#fbfbe6" stroke-width="2.1" opacity="0.6"/>
<line x1="403.30" y1="259.80" x2="426.70" y2="259.80" stroke="#fbfbe6" stroke-width="2.1" opacity="0.6"/>
<line x1="426.70" y1="259.80" x2="450.10" y2="259.80" stroke="#fbfbe6" stroke-width="2.1" opacity="0.6"/>
<line x1="286.30" y1="170.30" x2="309.70" y2="170.30" stroke="#ea4f4c" stroke-width="1.15" />
<line x1="309.70" y1="170.30" x2="333.10" y2="259.80" stroke="#e52a2e" stroke-width="1.3" stroke-linecap="round"/>
<line x1="333.10" y1="259.80" x2="356.50" y2="259.80" stroke="#ea4f4c" stroke-width="1.15" />
<line x1="356.50" y1="259.80" x2="379.90" y2="259.80" stroke="#ea4f4c" stroke-width="1.15" />
<line x1="379.90" y1="259.80" x2="403.30" y2="259.80" stroke="#ea4f4c" stroke-width="1.15" />
<line x1="403.30" y1="259.80" x2="426.70" y2="259.80" stroke="#ea4f4c" stroke-width="1.15" />
<line x1="426.70" y1="259.80" x2="450.10" y2="259.80" stroke="#ea4f4c" stroke-width="1.15" />
<line x1="287.03" y1="167.59" x2="310.43" y2="167.59" stroke="#fbfbe6" stroke-width="2.1" opacity="0.6"/>
<line x1="310.43" y1="167.59" x2="333.83" y2="167.59" stroke="#fbfbe6" stroke-width="2.1" opacity="0.6"/>
<line x1="357.23" y1="257.09" x2="380.63" y2="257.09" stroke="#fbfbe6" stroke-width="2.1" opacity="0.6"/>
<line x1="380.63" y1="257.09" x2="404.03" y2="257.09" stroke="#fbfbe6" stroke-width="2.1" opacity="0.6"/>
<line x1="404.03" y1="257.09" x2="427.43" y2="257.09" stroke="#fbfbe6" stroke-width="2.1" opacity="0.6"/>
<line x1="427.43" y1="257.09" x2="450.83" y2="257.09" stroke="#fbfbe6" stroke-width="2.1" opacity="0.6"/>
<line x1="287.03" y1="167.59" x2="310.43" y2="167.59" stroke="#ea4f4c" stroke-width="1.15" />
<line x1="310.43" y1="167.59" x2="333.83" y2="167.59" stroke="#ea4f4c" stroke-width="1.15" />
<line x1="333.83" y1="167.59" x2="357.23" y2="257.09" stroke="#e52a2e" stroke-width="1.3" stroke-linecap="round"/>
<line x1="357.23" y1="257.09" x2="380.63" y2="257.09" stroke="#ea4f4c" stroke-width="1.15" />
<line x1="380.63" y1="257.09" x2="404.03" y2="257.09" stroke="#ea4f4c" stroke-width="1.15" />
<line x1="404.03" y1="257.09" x2="427.43" y2="257.09" stroke="#ea4f4c" stroke-width="1.15" />
<line x1="427.43" y1="257.09" x2="450.83" y2="257.09" stroke="#ea4f4c" stroke-width="1.15" />
<line x1="287.76" y1="164.88" x2="311.16" y2="164.88" stroke="#fbfbe6" stroke-width="2.1" opacity="0.6"/>
<line x1="311.16" y1="164.88" x2="334.56" y2="164.88" stroke="#fbfbe6" stroke-width="2.1" opacity="0.6"/>
<line x1="357.96" y1="254.38" x2="381.36" y2="254.38" stroke="#fbfbe6" stroke-width="2.1" opacity="0.6"/>
<line x1="381.36" y1="254.38" x2="404.76" y2="254.38" stroke="#fbfbe6" stroke-width="2.1" opacity="0.6"/>
<line x1="404.76" y1="254.38" x2="428.16" y2="254.38" stroke="#fbfbe6" stroke-width="2.1" opacity="0.6"/>
<line x1="428.16" y1="254.38" x2="451.56" y2="254.38" stroke="#fbfbe6" stroke-width="2.1" opacity="0.6"/>
<line x1="287.76" y1="164.88" x2="311.16" y2="164.88" stroke="#ea4f4c" stroke-width="1.15" />
<line x1="311.16" y1="164.88" x2="334.56" y2="164.88" stroke="#ea4f4c" stroke-width="1.15" />
<line x1="334.56" y1="164.88" x2="357.96" y2="254.38" stroke="#e52a2e" stroke-width="1.3" stroke-linecap="round"/>
<line x1="357.96" y1="254.38" x2="381.36" y2="254.38" stroke="#ea4f4c" stroke-width="1.15" />
<line x1="381.36" y1="254.38" x2="404.76" y2="254.38" stroke="#ea4f4c" stroke-width="1.15" />
<line x1="404.76" y1="254.38" x2="428.16" y2="254.38" stroke="#ea4f4c" stroke-width="1.15" />
<line x1="428.16" y1="254.38" x2="451.56" y2="254.38" stroke="#ea4f4c" stroke-width="1.15" />
<line x1="288.49" y1="162.17" x2="311.89" y2="162.17" stroke="#fbfbe6" stroke-width="2.1" opacity="0.6"/>
<line x1="335.29" y1="251.67" x2="358.69" y2="251.67" stroke="#fbfbe6" stroke-width="2.1" opacity="0.6"/>
<line x1="358.69" y1="251.67" x2="382.09" y2="251.67" stroke="#fbfbe6" stroke-width="2.1" opacity="0.6"/>
<line x1="382.09" y1="251.67" x2="405.49" y2="251.67" stroke="#fbfbe6" stroke-width="2.1" opacity="0.6"/>
<line x1="405.49" y1="251.67" x2="428.89" y2="251.67" stroke="#fbfbe6" stroke-width="2.1" opacity="0.6"/>
<line x1="428.89" y1="251.67" x2="452.29" y2="251.67" stroke="#fbfbe6" stroke-width="2.1" opacity="0.6"/>
<line x1="288.49" y1="162.17" x2="311.89" y2="162.17" stroke="#ea4f4c" stroke-width="1.15" />
<line x1="311.89" y1="162.17" x2="335.29" y2="251.67" stroke="#e52a2e" stroke-width="1.3" stroke-linecap="round"/>
<line x1="335.29" y1="251.67" x2="358.69" y2="251.67" stroke="#ea4f4c" stroke-width="1.15" />
<line x1="358.69" y1="251.67" x2="382.09" y2="251.67" stroke="#ea4f4c" stroke-width="1.15" />
<line x1="382.09" y1="251.67" x2="405.49" y2="251.67" stroke="#ea4f4c" stroke-width="1.15" />
<line x1="405.49" y1="251.67" x2="428.89" y2="251.67" stroke="#ea4f4c" stroke-width="1.15" />
<line x1="428.89" y1="251.67" x2="452.29" y2="251.67" stroke="#ea4f4c" stroke-width="1.15" />
<line x1="289.22" y1="159.46" x2="312.62" y2="159.46" stroke="#fbfbe6" stroke-width="2.1" opacity="0.6"/>
<line x1="336.02" y1="248.96" x2="359.42" y2="248.96" stroke="#fbfbe6" stroke-width="2.1" opacity="0.6"/>
<line x1="359.42" y1="248.96" x2="382.82" y2="248.96" stroke="#fbfbe6" stroke-width="2.1" opacity="0.6"/>
<line x1="382.82" y1="248.96" x2="406.22" y2="248.96" stroke="#fbfbe6" stroke-width="2.1" opacity="0.6"/>
<line x1="406.22" y1="248.96" x2="429.62" y2="248.96" stroke="#fbfbe6" stroke-width="2.1" opacity="0.6"/>
<line x1="429.62" y1="248.96" x2="453.02" y2="248.96" stroke="#fbfbe6" stroke-width="2.1" opacity="0.6"/>
<line x1="289.22" y1="159.46" x2="312.62" y2="159.46" stroke="#ea4f4c" stroke-width="1.15" />
<line x1="312.62" y1="159.46" x2="336.02" y2="248.96" stroke="#e52a2e" stroke-width="1.3" stroke-linecap="round"/>
<line x1="336.02" y1="248.96" x2="359.42" y2="248.96" stroke="#ea4f4c" stroke-width="1.15" />
<line x1="359.42" y1="248.96" x2="382.82" y2="248.96" stroke="#ea4f4c" stroke-width="1.15" />
<line x1="382.82" y1="248.96" x2="406.22" y2="248.96" stroke="#ea4f4c" stroke-width="1.15" />
<line x1="406.22" y1="248.96" x2="429.62" y2="248.96" stroke="#ea4f4c" stroke-width="1.15" />
<line x1="429.62" y1="248.96" x2="453.02" y2="248.96" stroke="#ea4f4c" stroke-width="1.15" />
<line x1="289.95" y1="156.75" x2="313.35" y2="156.75" stroke="#fbfbe6" stroke-width="2.1" opacity="0.6"/>
<line x1="313.35" y1="156.75" x2="336.75" y2="156.75" stroke="#fbfbe6" stroke-width="2.1" opacity="0.6"/>
<line x1="336.75" y1="156.75" x2="360.15" y2="156.75" stroke="#fbfbe6" stroke-width="2.1" opacity="0.6"/>
<line x1="360.15" y1="156.75" x2="383.55" y2="156.75" stroke="#fbfbe6" stroke-width="2.1" opacity="0.6"/>
<line x1="383.55" y1="156.75" x2="406.95" y2="156.75" stroke="#fbfbe6" stroke-width="2.1" opacity="0.6"/>
<line x1="406.95" y1="156.75" x2="430.35" y2="156.75" stroke="#fbfbe6" stroke-width="2.1" opacity="0.6"/>
<line x1="430.35" y1="156.75" x2="453.75" y2="156.75" stroke="#fbfbe6" stroke-width="2.1" opacity="0.6"/>
<line x1="289.95" y1="156.75" x2="313.35" y2="156.75" stroke="#3858b0" stroke-width="1.15" />
<line x1="313.35" y1="156.75" x2="336.75" y2="156.75" stroke="#3858b0" stroke-width="1.15" />
<line x1="336.75" y1="156.75" x2="360.15" y2="156.75" stroke="#3858b0" stroke-width="1.15" />
<line x1="360.15" y1="156.75" x2="383.55" y2="156.75" stroke="#3858b0" stroke-width="1.15" />
<line x1="383.55" y1="156.75" x2="406.95" y2="156.75" stroke="#3858b0" stroke-width="1.15" />
<line x1="406.95" y1="156.75" x2="430.35" y2="156.75" stroke="#3858b0" stroke-width="1.15" />
<line x1="430.35" y1="156.75" x2="453.75" y2="156.75" stroke="#3858b0" stroke-width="1.15" />
<line x1="290.68" y1="154.04" x2="314.08" y2="154.04" stroke="#fbfbe6" stroke-width="2.1" opacity="0.6"/>
<line x1="314.08" y1="154.04" x2="337.48" y2="154.04" stroke="#fbfbe6" stroke-width="2.1" opacity="0.6"/>
<line x1="337.48" y1="154.04" x2="360.88" y2="154.04" stroke="#fbfbe6" stroke-width="2.1" opacity="0.6"/>
<line x1="360.88" y1="154.04" x2="384.28" y2="154.04" stroke="#fbfbe6" stroke-width="2.1" opacity="0.6"/>
<line x1="384.28" y1="154.04" x2="407.68" y2="154.04" stroke="#fbfbe6" stroke-width="2.1" opacity="0.6"/>
<line x1="407.68" y1="154.04" x2="431.08" y2="154.04" stroke="#fbfbe6" stroke-width="2.1" opacity="0.6"/>
<line x1="431.08" y1="154.04" x2="454.48" y2="154.04" stroke="#fbfbe6" stroke-width="2.1" opacity="0.6"/>
<line x1="290.68" y1="154.04" x2="314.08" y2="154.04" stroke="#3858b0" stroke-width="1.15" />
<line x1="314.08" y1="154.04" x2="337.48" y2="154.04" stroke="#3858b0" stroke-width="1.15" />
<line x1="337.48" y1="154.04" x2="360.88" y2="154.04" stroke="#3858b0" stroke-width="1.15" />
<line x1="360.88" y1="154.04" x2="384.28" y2="154.04" stroke="#3858b0" stroke-width="1.15" />
<line x1="384.28" y1="154.04" x2="407.68" y2="154.04" stroke="#3858b0" stroke-width="1.15" />
<line x1="407.68" y1="154.04" x2="431.08" y2="154.04" stroke="#3858b0" stroke-width="1.15" />
<line x1="431.08" y1="154.04" x2="454.48" y2="154.04" stroke="#3858b0" stroke-width="1.15" />
<line x1="291.41" y1="151.33" x2="314.81" y2="151.33" stroke="#fbfbe6" stroke-width="2.1" opacity="0.6"/>
<line x1="314.81" y1="151.33" x2="338.21" y2="151.33" stroke="#fbfbe6" stroke-width="2.1" opacity="0.6"/>
<line x1="338.21" y1="151.33" x2="361.61" y2="151.33" stroke="#fbfbe6" stroke-width="2.1" opacity="0.6"/>
<line x1="361.61" y1="151.33" x2="385.01" y2="151.33" stroke="#fbfbe6" stroke-width="2.1" opacity="0.6"/>
<line x1="385.01" y1="151.33" x2="408.41" y2="151.33" stroke="#fbfbe6" stroke-width="2.1" opacity="0.6"/>
<line x1="408.41" y1="151.33" x2="431.81" y2="151.33" stroke="#fbfbe6" stroke-width="2.1" opacity="0.6"/>
<line x1="431.81" y1="151.33" x2="455.21" y2="151.33" stroke="#fbfbe6" stroke-width="2.1" opacity="0.6"/>
<line x1="291.41" y1="151.33" x2="314.81" y2="151.33" stroke="#3858b0" stroke-width="1.15" />
<line x1="314.81" y1="151.33" x2="338.21" y2="151.33" stroke="#3858b0" stroke-width="1.15" />
<line x1="338.21" y1="151.33" x2="361.61" y2="151.33" stroke="#3858b0" stroke-width="1.15" />
<line x1="361.61" y1="151.33" x2="385.01" y2="151.33" stroke="#3858b0" stroke-width="1.15" />
<line x1="385.01" y1="151.33" x2="408.41" y2="151.33" stroke="#3858b0" stroke-width="1.15" />
<line x1="408.41" y1="151.33" x2="431.81" y2="151.33" stroke="#3858b0" stroke-width="1.15" />
<line x1="431.81" y1="151.33" x2="455.21" y2="151.33" stroke="#3858b0" stroke-width="1.15" />
<line x1="292.14" y1="148.62" x2="315.54" y2="148.62" stroke="#fbfbe6" stroke-width="2.1" opacity="0.6"/>
<line x1="315.54" y1="148.62" x2="338.94" y2="148.62" stroke="#fbfbe6" stroke-width="2.1" opacity="0.6"/>
<line x1="338.94" y1="148.62" x2="362.34" y2="148.62" stroke="#fbfbe6" stroke-width="2.1" opacity="0.6"/>
<line x1="362.34" y1="148.62" x2="385.74" y2="148.62" stroke="#fbfbe6" stroke-width="2.1" opacity="0.6"/>
<line x1="385.74" y1="148.62" x2="409.14" y2="148.62" stroke="#fbfbe6" stroke-width="2.1" opacity="0.6"/>
<line x1="409.14" y1="148.62" x2="432.54" y2="148.62" stroke="#fbfbe6" stroke-width="2.1" opacity="0.6"/>
<line x1="432.54" y1="148.62" x2="455.94" y2="148.62" stroke="#fbfbe6" stroke-width="2.1" opacity="0.6"/>
<line x1="292.14" y1="148.62" x2="315.54" y2="148.62" stroke="#3858b0" stroke-width="1.15" />
<line x1="315.54" y1="148.62" x2="338.94" y2="148.62" stroke="#3858b0" stroke-width="1.15" />
<line x1="338.94" y1="148.62" x2="362.34" y2="148.62" stroke="#3858b0" stroke-width="1.15" />
<line x1="362.34" y1="148.62" x2="385.74" y2="148.62" stroke="#3858b0" stroke-width="1.15" />
<line x1="385.74" y1="148.62" x2="409.14" y2="148.62" stroke="#3858b0" stroke-width="1.15" />
<line x1="409.14" y1="148.62" x2="432.54" y2="148.62" stroke="#3858b0" stroke-width="1.15" />
<line x1="432.54" y1="148.62" x2="455.94" y2="148.62" stroke="#3858b0" stroke-width="1.15" />
<line x1="292.87" y1="145.91" x2="316.27" y2="145.91" stroke="#fbfbe6" stroke-width="2.1" opacity="0.6"/>
<line x1="316.27" y1="145.91" x2="339.67" y2="145.91" stroke="#fbfbe6" stroke-width="2.1" opacity="0.6"/>
<line x1="339.67" y1="145.91" x2="363.07" y2="145.91" stroke="#fbfbe6" stroke-width="2.1" opacity="0.6"/>
<line x1="363.07" y1="145.91" x2="386.47" y2="145.91" stroke="#fbfbe6" stroke-width="2.1" opacity="0.6"/>
<line x1="386.47" y1="145.91" x2="409.87" y2="145.91" stroke="#fbfbe6" stroke-width="2.1" opacity="0.6"/>
<line x1="409.87" y1="145.91" x2="433.27" y2="145.91" stroke="#fbfbe6" stroke-width="2.1" opacity="0.6"/>
<line x1="433.27" y1="145.91" x2="456.67" y2="145.91" stroke="#fbfbe6" stroke-width="2.1" opacity="0.6"/>
<line x1="292.87" y1="145.91" x2="316.27" y2="145.91" stroke="#3858b0" stroke-width="1.15" />
<line x1="316.27" y1="145.91" x2="339.67" y2="145.91" stroke="#3858b0" stroke-width="1.15" />
<line x1="339.67" y1="145.91" x2="363.07" y2="145.91" stroke="#3858b0" stroke-width="1.15" />
<line x1="363.07" y1="145.91" x2="386.47" y2="145.91" stroke="#3858b0" stroke-width="1.15" />
<line x1="386.47" y1="145.91" x2="409.87" y2="145.91" stroke="#3858b0" stroke-width="1.15" />
<line x1="409.87" y1="145.91" x2="433.27" y2="145.91" stroke="#3858b0" stroke-width="1.15" />
<line x1="433.27" y1="145.91" x2="456.67" y2="145.91" stroke="#3858b0" stroke-width="1.15" />
<line x1="293.60" y1="143.20" x2="317.00" y2="143.20" stroke="#fbfbe6" stroke-width="2.1" opacity="0.6"/>
<line x1="317.00" y1="143.20" x2="340.40" y2="143.20" stroke="#fbfbe6" stroke-width="2.1" opacity="0.6"/>
<line x1="340.40" y1="143.20" x2="363.80" y2="143.20" stroke="#fbfbe6" stroke-width="2.1" opacity="0.6"/>
<line x1="363.80" y1="143.20" x2="387.20" y2="143.20" stroke="#fbfbe6" stroke-width="2.1" opacity="0.6"/>
<line x1="387.20" y1="143.20" x2="410.60" y2="143.20" stroke="#fbfbe6" stroke-width="2.1" opacity="0.6"/>
<line x1="410.60" y1="143.20" x2="434.00" y2="143.20" stroke="#fbfbe6" stroke-width="2.1" opacity="0.6"/>
<line x1="434.00" y1="143.20" x2="457.40" y2="143.20" stroke="#fbfbe6" stroke-width="2.1" opacity="0.6"/>
<line x1="293.60" y1="143.20" x2="317.00" y2="143.20" stroke="#3858b0" stroke-width="1.15" />
<line x1="317.00" y1="143.20" x2="340.40" y2="143.20" stroke="#3858b0" stroke-width="1.15" />
<line x1="340.40" y1="143.20" x2="363.80" y2="143.20" stroke="#3858b0" stroke-width="1.15" />
<line x1="363.80" y1="143.20" x2="387.20" y2="143.20" stroke="#3858b0" stroke-width="1.15" />
<line x1="387.20" y1="143.20" x2="410.60" y2="143.20" stroke="#3858b0" stroke-width="1.15" />
<line x1="410.60" y1="143.20" x2="434.00" y2="143.20" stroke="#3858b0" stroke-width="1.15" />
<line x1="434.00" y1="143.20" x2="457.40" y2="143.20" stroke="#3858b0" stroke-width="1.15" />
<circle cx="284.11" cy="178.43" r="1.2" fill="#1c1c2c" stroke="#111" stroke-width="0.6"/>
<circle cx="307.51" cy="178.43" r="1.2" fill="#1c1c2c" stroke="#111" stroke-width="0.6"/>
<circle cx="330.91" cy="267.93" r="1.2" fill="#1c1c2c" stroke="#111" stroke-width="0.6"/>
<circle cx="354.31" cy="178.43" r="1.2" fill="#1c1c2c" stroke="#111" stroke-width="0.6"/>
<circle cx="377.71" cy="178.43" r="1.2" fill="#1c1c2c" stroke="#111" stroke-width="0.6"/>
<circle cx="401.11" cy="178.43" r="1.2" fill="#1c1c2c" stroke="#111" stroke-width="0.6"/>
<circle cx="424.51" cy="178.43" r="1.2" fill="#1c1c2c" stroke="#111" stroke-width="0.6"/>
<circle cx="447.91" cy="178.43" r="1.2" fill="#1c1c2c" stroke="#111" stroke-width="0.6"/>
<circle cx="284.84" cy="175.72" r="1.2" fill="#1c1c2c" stroke="#111" stroke-width="0.6"/>
<circle cx="308.24" cy="175.72" r="1.2" fill="#1c1c2c" stroke="#111" stroke-width="0.6"/>
<circle cx="331.64" cy="265.22" r="1.2" fill="#1c1c2c" stroke="#111" stroke-width="0.6"/>
<circle cx="355.04" cy="265.22" r="1.2" fill="#1c1c2c" stroke="#111" stroke-width="0.6"/>
<circle cx="378.44" cy="265.22" r="1.2" fill="#1c1c2c" stroke="#111" stroke-width="0.6"/>
<circle cx="401.84" cy="175.72" r="1.2" fill="#1c1c2c" stroke="#111" stroke-width="0.6"/>
<circle cx="425.24" cy="175.72" r="1.2" fill="#1c1c2c" stroke="#111" stroke-width="0.6"/>
<circle cx="448.64" cy="175.72" r="1.2" fill="#1c1c2c" stroke="#111" stroke-width="0.6"/>
<circle cx="285.57" cy="173.01" r="1.2" fill="#1c1c2c" stroke="#111" stroke-width="0.6"/>
<circle cx="308.97" cy="173.01" r="1.2" fill="#1c1c2c" stroke="#111" stroke-width="0.6"/>
<circle cx="332.37" cy="173.01" r="1.2" fill="#1c1c2c" stroke="#111" stroke-width="0.6"/>
<circle cx="355.77" cy="262.51" r="1.2" fill="#1c1c2c" stroke="#111" stroke-width="0.6"/>
<circle cx="379.17" cy="173.01" r="1.2" fill="#1c1c2c" stroke="#111" stroke-width="0.6"/>
<circle cx="402.57" cy="173.01" r="1.2" fill="#1c1c2c" stroke="#111" stroke-width="0.6"/>
<circle cx="425.97" cy="173.01" r="1.2" fill="#1c1c2c" stroke="#111" stroke-width="0.6"/>
<circle cx="449.37" cy="173.01" r="1.2" fill="#1c1c2c" stroke="#111" stroke-width="0.6"/>
<circle cx="286.30" cy="170.30" r="1.2" fill="#e52a2e" stroke="#111" stroke-width="0.6"/>
<circle cx="309.70" cy="170.30" r="1.2" fill="#e52a2e" stroke="#111" stroke-width="0.6"/>
<circle cx="333.10" cy="259.80" r="1.2" fill="#e52a2e" stroke="#111" stroke-width="0.6"/>
<circle cx="356.50" cy="259.80" r="1.2" fill="#e52a2e" stroke="#111" stroke-width="0.6"/>
<circle cx="379.90" cy="259.80" r="1.2" fill="#e52a2e" stroke="#111" stroke-width="0.6"/>
<circle cx="403.30" cy="259.80" r="1.2" fill="#e52a2e" stroke="#111" stroke-width="0.6"/>
<circle cx="426.70" cy="259.80" r="1.2" fill="#e52a2e" stroke="#111" stroke-width="0.6"/>
<circle cx="450.10" cy="259.80" r="1.2" fill="#e52a2e" stroke="#111" stroke-width="0.6"/>
<circle cx="287.03" cy="167.59" r="1.2" fill="#e52a2e" stroke="#111" stroke-width="0.6"/>
<circle cx="310.43" cy="167.59" r="1.2" fill="#e52a2e" stroke="#111" stroke-width="0.6"/>
<circle cx="333.83" cy="167.59" r="1.2" fill="#e52a2e" stroke="#111" stroke-width="0.6"/>
<circle cx="357.23" cy="257.09" r="1.2" fill="#e52a2e" stroke="#111" stroke-width="0.6"/>
<circle cx="380.63" cy="257.09" r="1.2" fill="#e52a2e" stroke="#111" stroke-width="0.6"/>
<circle cx="404.03" cy="257.09" r="1.2" fill="#e52a2e" stroke="#111" stroke-width="0.6"/>
<circle cx="427.43" cy="257.09" r="1.2" fill="#e52a2e" stroke="#111" stroke-width="0.6"/>
<circle cx="450.83" cy="257.09" r="1.2" fill="#e52a2e" stroke="#111" stroke-width="0.6"/>
<circle cx="287.76" cy="164.88" r="1.2" fill="#e52a2e" stroke="#111" stroke-width="0.6"/>
<circle cx="311.16" cy="164.88" r="1.2" fill="#e52a2e" stroke="#111" stroke-width="0.6"/>
<circle cx="334.56" cy="164.88" r="1.2" fill="#e52a2e" stroke="#111" stroke-width="0.6"/>
<circle cx="357.96" cy="254.38" r="1.2" fill="#e52a2e" stroke="#111" stroke-width="0.6"/>
<circle cx="381.36" cy="254.38" r="1.2" fill="#e52a2e" stroke="#111" stroke-width="0.6"/>
<circle cx="404.76" cy="254.38" r="1.2" fill="#e52a2e" stroke="#111" stroke-width="0.6"/>
<circle cx="428.16" cy="254.38" r="1.2" fill="#e52a2e" stroke="#111" stroke-width="0.6"/>
<circle cx="451.56" cy="254.38" r="1.2" fill="#e52a2e" stroke="#111" stroke-width="0.6"/>
<circle cx="288.49" cy="162.17" r="1.2" fill="#e52a2e" stroke="#111" stroke-width="0.6"/>
<circle cx="311.89" cy="162.17" r="1.2" fill="#e52a2e" stroke="#111" stroke-width="0.6"/>
<circle cx="335.29" cy="251.67" r="1.2" fill="#e52a2e" stroke="#111" stroke-width="0.6"/>
<circle cx="358.69" cy="251.67" r="1.2" fill="#e52a2e" stroke="#111" stroke-width="0.6"/>
<circle cx="382.09" cy="251.67" r="1.2" fill="#e52a2e" stroke="#111" stroke-width="0.6"/>
<circle cx="405.49" cy="251.67" r="1.2" fill="#e52a2e" stroke="#111" stroke-width="0.6"/>
<circle cx="428.89" cy="251.67" r="1.2" fill="#e52a2e" stroke="#111" stroke-width="0.6"/>
<circle cx="452.29" cy="251.67" r="1.2" fill="#e52a2e" stroke="#111" stroke-width="0.6"/>
<circle cx="289.22" cy="159.46" r="1.2" fill="#e52a2e" stroke="#111" stroke-width="0.6"/>
<circle cx="312.62" cy="159.46" r="1.2" fill="#e52a2e" stroke="#111" stroke-width="0.6"/>
<circle cx="336.02" cy="248.96" r="1.2" fill="#e52a2e" stroke="#111" stroke-width="0.6"/>
<circle cx="359.42" cy="248.96" r="1.2" fill="#e52a2e" stroke="#111" stroke-width="0.6"/>
<circle cx="382.82" cy="248.96" r="1.2" fill="#e52a2e" stroke="#111" stroke-width="0.6"/>
<circle cx="406.22" cy="248.96" r="1.2" fill="#e52a2e" stroke="#111" stroke-width="0.6"/>
<circle cx="429.62" cy="248.96" r="1.2" fill="#e52a2e" stroke="#111" stroke-width="0.6"/>
<circle cx="453.02" cy="248.96" r="1.2" fill="#e52a2e" stroke="#111" stroke-width="0.6"/>
<circle cx="289.95" cy="156.75" r="1.2" fill="#1c1c2c" stroke="#111" stroke-width="0.6"/>
<circle cx="313.35" cy="156.75" r="1.2" fill="#1c1c2c" stroke="#111" stroke-width="0.6"/>
<circle cx="336.75" cy="156.75" r="1.2" fill="#1c1c2c" stroke="#111" stroke-width="0.6"/>
<circle cx="360.15" cy="156.75" r="1.2" fill="#1c1c2c" stroke="#111" stroke-width="0.6"/>
<circle cx="383.55" cy="156.75" r="1.2" fill="#1c1c2c" stroke="#111" stroke-width="0.6"/>
<circle cx="406.95" cy="156.75" r="1.2" fill="#1c1c2c" stroke="#111" stroke-width="0.6"/>
<circle cx="430.35" cy="156.75" r="1.2" fill="#1c1c2c" stroke="#111" stroke-width="0.6"/>
<circle cx="453.75" cy="156.75" r="1.2" fill="#1c1c2c" stroke="#111" stroke-width="0.6"/>
<circle cx="290.68" cy="154.04" r="1.2" fill="#1c1c2c" stroke="#111" stroke-width="0.6"/>
<circle cx="314.08" cy="154.04" r="1.2" fill="#1c1c2c" stroke="#111" stroke-width="0.6"/>
<circle cx="337.48" cy="154.04" r="1.2" fill="#1c1c2c" stroke="#111" stroke-width="0.6"/>
<circle cx="360.88" cy="154.04" r="1.2" fill="#1c1c2c" stroke="#111" stroke-width="0.6"/>
<circle cx="384.28" cy="154.04" r="1.2" fill="#1c1c2c" stroke="#111" stroke-width="0.6"/>
<circle cx="407.68" cy="154.04" r="1.2" fill="#1c1c2c" stroke="#111" stroke-width="0.6"/>
<circle cx="431.08" cy="154.04" r="1.2" fill="#1c1c2c" stroke="#111" stroke-width="0.6"/>
<circle cx="454.48" cy="154.04" r="1.2" fill="#1c1c2c" stroke="#111" stroke-width="0.6"/>
<circle cx="291.41" cy="151.33" r="1.2" fill="#1c1c2c" stroke="#111" stroke-width="0.6"/>
<circle cx="314.81" cy="151.33" r="1.2" fill="#1c1c2c" stroke="#111" stroke-width="0.6"/>
<circle cx="338.21" cy="151.33" r="1.2" fill="#1c1c2c" stroke="#111" stroke-width="0.6"/>
<circle cx="361.61" cy="151.33" r="1.2" fill="#1c1c2c" stroke="#111" stroke-width="0.6"/>
<circle cx="385.01" cy="151.33" r="1.2" fill="#1c1c2c" stroke="#111" stroke-width="0.6"/>
<circle cx="408.41" cy="151.33" r="1.2" fill="#1c1c2c" stroke="#111" stroke-width="0.6"/>
<circle cx="431.81" cy="151.33" r="1.2" fill="#1c1c2c" stroke="#111" stroke-width="0.6"/>
<circle cx="455.21" cy="151.33" r="1.2" fill="#1c1c2c" stroke="#111" stroke-width="0.6"/>
<circle cx="292.14" cy="148.62" r="1.2" fill="#1c1c2c" stroke="#111" stroke-width="0.6"/>
<circle cx="315.54" cy="148.62" r="1.2" fill="#1c1c2c" stroke="#111" stroke-width="0.6"/>
<circle cx="338.94" cy="148.62" r="1.2" fill="#1c1c2c" stroke="#111" stroke-width="0.6"/>
<circle cx="362.34" cy="148.62" r="1.2" fill="#1c1c2c" stroke="#111" stroke-width="0.6"/>
<circle cx="385.74" cy="148.62" r="1.2" fill="#1c1c2c" stroke="#111" stroke-width="0.6"/>
<circle cx="409.14" cy="148.62" r="1.2" fill="#1c1c2c" stroke="#111" stroke-width="0.6"/>
<circle cx="432.54" cy="148.62" r="1.2" fill="#1c1c2c" stroke="#111" stroke-width="0.6"/>
<circle cx="455.94" cy="148.62" r="1.2" fill="#1c1c2c" stroke="#111" stroke-width="0.6"/>
<circle cx="292.87" cy="145.91" r="1.2" fill="#1c1c2c" stroke="#111" stroke-width="0.6"/>
<circle cx="316.27" cy="145.91" r="1.2" fill="#1c1c2c" stroke="#111" stroke-width="0.6"/>
<circle cx="339.67" cy="145.91" r="1.2" fill="#1c1c2c" stroke="#111" stroke-width="0.6"/>
<circle cx="363.07" cy="145.91" r="1.2" fill="#1c1c2c" stroke="#111" stroke-width="0.6"/>
<circle cx="386.47" cy="145.91" r="1.2" fill="#1c1c2c" stroke="#111" stroke-width="0.6"/>
<circle cx="409.87" cy="145.91" r="1.2" fill="#1c1c2c" stroke="#111" stroke-width="0.6"/>
<circle cx="433.27" cy="145.91" r="1.2" fill="#1c1c2c" stroke="#111" stroke-width="0.6"/>
<circle cx="456.67" cy="145.91" r="1.2" fill="#1c1c2c" stroke="#111" stroke-width="0.6"/>
<circle cx="293.60" cy="143.20" r="1.2" fill="#1c1c2c" stroke="#111" stroke-width="0.6"/>
<circle cx="317.00" cy="143.20" r="1.2" fill="#1c1c2c" stroke="#111" stroke-width="0.6"/>
<circle cx="340.40" cy="143.20" r="1.2" fill="#1c1c2c" stroke="#111" stroke-width="0.6"/>
<circle cx="363.80" cy="143.20" r="1.2" fill="#1c1c2c" stroke="#111" stroke-width="0.6"/>
<circle cx="387.20" cy="143.20" r="1.2" fill="#1c1c2c" stroke="#111" stroke-width="0.6"/>
<circle cx="410.60" cy="143.20" r="1.2" fill="#1c1c2c" stroke="#111" stroke-width="0.6"/>
<circle cx="434.00" cy="143.20" r="1.2" fill="#1c1c2c" stroke="#111" stroke-width="0.6"/>
<circle cx="457.40" cy="143.20" r="1.2" fill="#1c1c2c" stroke="#111" stroke-width="0.6"/>
<rect x="322" y="136.4" width="3.7" height="146.1" fill="#9d88cc" opacity="0.62"/>
<text x="0.90" y="313.90" font-size="22.3" fill="#000" stroke="#000" stroke-width="0.35" text-anchor="start" >D</text>
<text x="17.20" y="313.90" font-size="15" fill="#000" stroke="#000" stroke-width="0.35" text-anchor="start" >i</text>
<line x1="50.00" y1="331.50" x2="50.00" y2="407.30" stroke="#2a2a2a" stroke-width="1.4" />
<line x1="45.40" y1="336.30" x2="50.00" y2="336.30" stroke="#2a2a2a" stroke-width="1.3" />
<text x="43.80" y="339.70" font-size="10.8" fill="#000" stroke="#000" stroke-width="0.35" text-anchor="end" >0.6</text>
<line x1="45.40" y1="358.30" x2="50.00" y2="358.30" stroke="#2a2a2a" stroke-width="1.3" />
<text x="43.80" y="361.70" font-size="10.8" fill="#000" stroke="#000" stroke-width="0.35" text-anchor="end" >0.4</text>
<line x1="45.40" y1="380.30" x2="50.00" y2="380.30" stroke="#2a2a2a" stroke-width="1.3" />
<text x="43.80" y="383.70" font-size="10.8" fill="#000" stroke="#000" stroke-width="0.35" text-anchor="end" >0.2</text>
<line x1="45.40" y1="402.30" x2="50.00" y2="402.30" stroke="#2a2a2a" stroke-width="1.3" />
<text x="43.80" y="405.70" font-size="10.8" fill="#000" stroke="#000" stroke-width="0.35" text-anchor="end" >0.0</text>
<text transform="translate(24.4,375.6) rotate(-90)" font-size="14.0" fill="#000" stroke="#000" stroke-width="0.35" text-anchor="middle">AUC [V * Sec]</text>
<line x1="64.40" y1="416.30" x2="228.00" y2="416.30" stroke="#2a2a2a" stroke-width="1.4" />
<line x1="75.30" y1="416.30" x2="75.30" y2="420.10" stroke="#2a2a2a" stroke-width="1.3" />
<line x1="95.53" y1="416.30" x2="95.53" y2="420.10" stroke="#2a2a2a" stroke-width="1.3" />
<line x1="115.76" y1="416.30" x2="115.76" y2="420.10" stroke="#2a2a2a" stroke-width="1.3" />
<line x1="135.99" y1="416.30" x2="135.99" y2="420.10" stroke="#2a2a2a" stroke-width="1.3" />
<line x1="156.22" y1="416.30" x2="156.22" y2="420.10" stroke="#2a2a2a" stroke-width="1.3" />
<line x1="176.45" y1="416.30" x2="176.45" y2="420.10" stroke="#2a2a2a" stroke-width="1.3" />
<line x1="196.68" y1="416.30" x2="196.68" y2="420.10" stroke="#2a2a2a" stroke-width="1.3" />
<line x1="216.91" y1="416.30" x2="216.91" y2="420.10" stroke="#2a2a2a" stroke-width="1.3" />
<path d="M0.392,0 L0.252,0 L0.252,-0.512 Q0.16,-0.45 0.052,-0.425 L0.052,-0.55 Q0.2,-0.6 0.285,-0.716 L0.392,-0.716 Z" transform="translate(72.27,429.40) scale(10.9)" fill="#000" stroke="#000" stroke-width="0.0321"/>
<text x="95.53" y="429.40" font-size="10.9" fill="#000" stroke="#000" stroke-width="0.35" text-anchor="middle" >2</text>
<text x="115.76" y="429.40" font-size="10.9" fill="#000" stroke="#000" stroke-width="0.35" text-anchor="middle" >3</text>
<text x="135.99" y="429.40" font-size="10.9" fill="#000" stroke="#000" stroke-width="0.35" text-anchor="middle" >4</text>
<text x="156.22" y="429.40" font-size="10.9" fill="#000" stroke="#000" stroke-width="0.35" text-anchor="middle" >5</text>
<text x="176.45" y="429.40" font-size="10.9" fill="#000" stroke="#000" stroke-width="0.35" text-anchor="middle" >6</text>
<text x="196.68" y="429.40" font-size="10.9" fill="#000" stroke="#000" stroke-width="0.35" text-anchor="middle" >7</text>
<text x="216.91" y="429.40" font-size="10.9" fill="#000" stroke="#000" stroke-width="0.35" text-anchor="middle" >8</text>
<line x1="51.00" y1="402.20" x2="229.00" y2="402.20" stroke="#6a6a6a" stroke-width="1.1" stroke-dasharray="1.2 1.25"/>
<line x1="95.53" y1="362.10" x2="95.53" y2="372.70" stroke="#a57b3b" stroke-width="1.25" />
<line x1="92.03" y1="362.10" x2="99.03" y2="362.10" stroke="#a57b3b" stroke-width="1.25" />
<line x1="92.03" y1="372.70" x2="99.03" y2="372.70" stroke="#a57b3b" stroke-width="1.25" />
<line x1="156.22" y1="371.70" x2="156.22" y2="392.70" stroke="#a57b3b" stroke-width="1.25" />
<line x1="152.72" y1="371.70" x2="159.72" y2="371.70" stroke="#a57b3b" stroke-width="1.25" />
<line x1="152.72" y1="392.70" x2="159.72" y2="392.70" stroke="#a57b3b" stroke-width="1.25" />
<line x1="176.45" y1="374.40" x2="176.45" y2="387.60" stroke="#a57b3b" stroke-width="1.25" />
<line x1="172.95" y1="374.40" x2="179.95" y2="374.40" stroke="#a57b3b" stroke-width="1.25" />
<line x1="172.95" y1="387.60" x2="179.95" y2="387.60" stroke="#a57b3b" stroke-width="1.25" />
<line x1="216.91" y1="365.00" x2="216.91" y2="371.00" stroke="#a57b3b" stroke-width="1.25" />
<line x1="213.41" y1="365.00" x2="220.41" y2="365.00" stroke="#a57b3b" stroke-width="1.25" />
<line x1="213.41" y1="371.00" x2="220.41" y2="371.00" stroke="#a57b3b" stroke-width="1.25" />
<line x1="75.30" y1="346.00" x2="75.30" y2="362.60" stroke="#3050aa" stroke-width="1.25" />
<line x1="71.80" y1="346.00" x2="78.80" y2="346.00" stroke="#3050aa" stroke-width="1.25" />
<line x1="71.80" y1="362.60" x2="78.80" y2="362.60" stroke="#3050aa" stroke-width="1.25" />
<line x1="95.53" y1="353.90" x2="95.53" y2="364.90" stroke="#3050aa" stroke-width="1.25" />
<line x1="92.03" y1="353.90" x2="99.03" y2="353.90" stroke="#3050aa" stroke-width="1.25" />
<line x1="92.03" y1="364.90" x2="99.03" y2="364.90" stroke="#3050aa" stroke-width="1.25" />
<line x1="115.76" y1="357.30" x2="115.76" y2="367.30" stroke="#3050aa" stroke-width="1.25" />
<line x1="112.26" y1="357.30" x2="119.26" y2="357.30" stroke="#3050aa" stroke-width="1.25" />
<line x1="112.26" y1="367.30" x2="119.26" y2="367.30" stroke="#3050aa" stroke-width="1.25" />
<line x1="135.99" y1="353.80" x2="135.99" y2="363.80" stroke="#3050aa" stroke-width="1.25" />
<line x1="132.49" y1="353.80" x2="139.49" y2="353.80" stroke="#3050aa" stroke-width="1.25" />
<line x1="132.49" y1="363.80" x2="139.49" y2="363.80" stroke="#3050aa" stroke-width="1.25" />
<line x1="156.22" y1="346.80" x2="156.22" y2="360.80" stroke="#3050aa" stroke-width="1.25" />
<line x1="152.72" y1="346.80" x2="159.72" y2="346.80" stroke="#3050aa" stroke-width="1.25" />
<line x1="152.72" y1="360.80" x2="159.72" y2="360.80" stroke="#3050aa" stroke-width="1.25" />
<line x1="176.45" y1="343.10" x2="176.45" y2="360.10" stroke="#3050aa" stroke-width="1.25" />
<line x1="172.95" y1="343.10" x2="179.95" y2="343.10" stroke="#3050aa" stroke-width="1.25" />
<line x1="172.95" y1="360.10" x2="179.95" y2="360.10" stroke="#3050aa" stroke-width="1.25" />
<line x1="196.68" y1="341.90" x2="196.68" y2="359.30" stroke="#3050aa" stroke-width="1.25" />
<line x1="193.18" y1="341.90" x2="200.18" y2="341.90" stroke="#3050aa" stroke-width="1.25" />
<line x1="193.18" y1="359.30" x2="200.18" y2="359.30" stroke="#3050aa" stroke-width="1.25" />
<line x1="216.91" y1="338.00" x2="216.91" y2="355.60" stroke="#3050aa" stroke-width="1.25" />
<line x1="213.41" y1="338.00" x2="220.41" y2="338.00" stroke="#3050aa" stroke-width="1.25" />
<line x1="213.41" y1="355.60" x2="220.41" y2="355.60" stroke="#3050aa" stroke-width="1.25" />
<polyline points="75.30,355.50 95.53,367.40 115.76,377.50 135.99,394.20 156.22,382.20 176.45,381.00 196.68,370.50 216.91,368.00" fill="none" stroke="#93621c" stroke-width="1.5" stroke-linejoin="round" />
<polyline points="75.30,354.30 95.53,359.40 115.76,362.30 135.99,358.80 156.22,353.80 176.45,351.60 196.68,350.60 216.91,346.80" fill="none" stroke="#1c3c98" stroke-width="1.5" stroke-linejoin="round" />
<circle cx="75.30" cy="355.50" r="2.8" fill="#93621c"/>
<circle cx="95.53" cy="367.40" r="2.8" fill="#93621c"/>
<circle cx="115.76" cy="377.50" r="2.8" fill="#93621c"/>
<circle cx="135.99" cy="394.20" r="2.8" fill="#93621c"/>
<circle cx="156.22" cy="382.20" r="2.8" fill="#93621c"/>
<circle cx="176.45" cy="381.00" r="2.8" fill="#93621c"/>
<circle cx="196.68" cy="370.50" r="2.8" fill="#93621c"/>
<circle cx="216.91" cy="368.00" r="2.8" fill="#93621c"/>
<circle cx="75.30" cy="354.30" r="2.8" fill="#1c3c98"/>
<circle cx="95.53" cy="359.40" r="2.8" fill="#1c3c98"/>
<circle cx="115.76" cy="362.30" r="2.8" fill="#1c3c98"/>
<circle cx="135.99" cy="358.80" r="2.8" fill="#1c3c98"/>
<circle cx="156.22" cy="353.80" r="2.8" fill="#1c3c98"/>
<circle cx="176.45" cy="351.60" r="2.8" fill="#1c3c98"/>
<circle cx="196.68" cy="350.60" r="2.8" fill="#1c3c98"/>
<circle cx="216.91" cy="346.80" r="2.8" fill="#1c3c98"/>
<path d="M0.392,0 L0.252,0 L0.252,-0.512 Q0.16,-0.45 0.052,-0.425 L0.052,-0.55 Q0.2,-0.6 0.285,-0.716 L0.392,-0.716 Z" transform="translate(112.10,414.20) scale(11.5)" fill="#97672a" stroke="#97672a" stroke-width="0.0174"/>
<path d="M0.392,0 L0.252,0 L0.252,-0.512 Q0.16,-0.45 0.052,-0.425 L0.052,-0.55 Q0.2,-0.6 0.285,-0.716 L0.392,-0.716 Z" transform="translate(132.00,414.20) scale(11.5)" fill="#97672a" stroke="#97672a" stroke-width="0.0174"/>
<text x="155.70" y="414.20" font-size="11.5" fill="#97672a" stroke="#97672a" stroke-width="0.2" text-anchor="middle" >2</text>
<text x="231.40" y="313.90" font-size="22.3" fill="#000" stroke="#000" stroke-width="0.35" text-anchor="start" >D</text>
<text x="247.70" y="313.90" font-size="15.5" fill="#000" stroke="#000" stroke-width="0.35" text-anchor="start" >ii</text>
<line x1="292.40" y1="337.80" x2="292.40" y2="410.20" stroke="#2a2a2a" stroke-width="1.4" />
<line x1="288.00" y1="337.80" x2="292.40" y2="337.80" stroke="#2a2a2a" stroke-width="1.3" />
<path d="M0.392,0 L0.252,0 L0.252,-0.512 Q0.16,-0.45 0.052,-0.425 L0.052,-0.55 Q0.2,-0.6 0.285,-0.716 L0.392,-0.716 Z" transform="translate(271.94,341.60) scale(10.4)" fill="#000" stroke="#000" stroke-width="0.0337"/>
<text x="277.73" y="341.60" font-size="10.4" fill="#000" stroke="#000" stroke-width="0.35">.5</text>
<line x1="288.00" y1="361.80" x2="292.40" y2="361.80" stroke="#2a2a2a" stroke-width="1.3" />
<path d="M0.392,0 L0.252,0 L0.252,-0.512 Q0.16,-0.45 0.052,-0.425 L0.052,-0.55 Q0.2,-0.6 0.285,-0.716 L0.392,-0.716 Z" transform="translate(271.94,365.60) scale(10.4)" fill="#000" stroke="#000" stroke-width="0.0337"/>
<text x="277.73" y="365.60" font-size="10.4" fill="#000" stroke="#000" stroke-width="0.35">.0</text>
<line x1="288.00" y1="385.80" x2="292.40" y2="385.80" stroke="#2a2a2a" stroke-width="1.3" />
<text x="286.40" y="389.60" font-size="10.4" fill="#000" stroke="#000" stroke-width="0.35" text-anchor="end" >0.5</text>
<line x1="288.00" y1="409.80" x2="292.40" y2="409.80" stroke="#2a2a2a" stroke-width="1.3" />
<text x="286.40" y="413.60" font-size="10.4" fill="#000" stroke="#000" stroke-width="0.35" text-anchor="end" >0.0</text>
<text transform="translate(251.7,372.6) rotate(-90)" font-size="13.6" fill="#000" stroke="#000" stroke-width="0.35" text-anchor="middle">% Change</text>
<text transform="translate(265.0,369.8) rotate(-90)" font-size="13.6" fill="#000" stroke="#000" stroke-width="0.35" text-anchor="middle">from Baseline</text>
<line x1="307.10" y1="418.50" x2="466.50" y2="418.50" stroke="#2a2a2a" stroke-width="1.4" />
<line x1="317.30" y1="418.50" x2="317.30" y2="422.30" stroke="#2a2a2a" stroke-width="1.3" />
<line x1="337.10" y1="418.50" x2="337.10" y2="422.30" stroke="#2a2a2a" stroke-width="1.3" />
<line x1="356.90" y1="418.50" x2="356.90" y2="422.30" stroke="#2a2a2a" stroke-width="1.3" />
<line x1="376.70" y1="418.50" x2="376.70" y2="422.30" stroke="#2a2a2a" stroke-width="1.3" />
<line x1="396.50" y1="418.50" x2="396.50" y2="422.30" stroke="#2a2a2a" stroke-width="1.3" />
<line x1="416.30" y1="418.50" x2="416.30" y2="422.30" stroke="#2a2a2a" stroke-width="1.3" />
<line x1="436.10" y1="418.50" x2="436.10" y2="422.30" stroke="#2a2a2a" stroke-width="1.3" />
<line x1="455.90" y1="418.50" x2="455.90" y2="422.30" stroke="#2a2a2a" stroke-width="1.3" />
<path d="M0.392,0 L0.252,0 L0.252,-0.512 Q0.16,-0.45 0.052,-0.425 L0.052,-0.55 Q0.2,-0.6 0.285,-0.716 L0.392,-0.716 Z" transform="translate(314.27,434.00) scale(10.9)" fill="#000" stroke="#000" stroke-width="0.0321"/>
<text x="337.10" y="434.00" font-size="10.9" fill="#000" stroke="#000" stroke-width="0.35" text-anchor="middle" >2</text>
<text x="356.90" y="434.00" font-size="10.9" fill="#000" stroke="#000" stroke-width="0.35" text-anchor="middle" >3</text>
<text x="376.70" y="434.00" font-size="10.9" fill="#000" stroke="#000" stroke-width="0.35" text-anchor="middle" >4</text>
<text x="396.50" y="434.00" font-size="10.9" fill="#000" stroke="#000" stroke-width="0.35" text-anchor="middle" >5</text>
<text x="416.30" y="434.00" font-size="10.9" fill="#000" stroke="#000" stroke-width="0.35" text-anchor="middle" >6</text>
<text x="436.10" y="434.00" font-size="10.9" fill="#000" stroke="#000" stroke-width="0.35" text-anchor="middle" >7</text>
<text x="455.90" y="434.00" font-size="10.9" fill="#000" stroke="#000" stroke-width="0.35" text-anchor="middle" >8</text>
<line x1="293.00" y1="409.60" x2="466.00" y2="409.60" stroke="#6a6a6a" stroke-width="1.1" stroke-dasharray="1.2 1.25"/>
<line x1="416.30" y1="379.70" x2="416.30" y2="394.30" stroke="#a57b3b" stroke-width="1.25" />
<line x1="412.80" y1="379.70" x2="419.80" y2="379.70" stroke="#a57b3b" stroke-width="1.25" />
<line x1="412.80" y1="394.30" x2="419.80" y2="394.30" stroke="#a57b3b" stroke-width="1.25" />
<line x1="436.10" y1="372.70" x2="436.10" y2="388.90" stroke="#a57b3b" stroke-width="1.25" />
<line x1="432.60" y1="372.70" x2="439.60" y2="372.70" stroke="#a57b3b" stroke-width="1.25" />
<line x1="432.60" y1="388.90" x2="439.60" y2="388.90" stroke="#a57b3b" stroke-width="1.25" />
<line x1="455.90" y1="366.80" x2="455.90" y2="385.20" stroke="#a57b3b" stroke-width="1.25" />
<line x1="452.40" y1="366.80" x2="459.40" y2="366.80" stroke="#a57b3b" stroke-width="1.25" />
<line x1="452.40" y1="385.20" x2="459.40" y2="385.20" stroke="#a57b3b" stroke-width="1.25" />
<line x1="416.30" y1="348.90" x2="416.30" y2="362.50" stroke="#3050aa" stroke-width="1.25" />
<line x1="412.80" y1="348.90" x2="419.80" y2="348.90" stroke="#3050aa" stroke-width="1.25" />
<line x1="412.80" y1="362.50" x2="419.80" y2="362.50" stroke="#3050aa" stroke-width="1.25" />
<line x1="436.10" y1="345.60" x2="436.10" y2="362.20" stroke="#3050aa" stroke-width="1.25" />
<line x1="432.60" y1="345.60" x2="439.60" y2="345.60" stroke="#3050aa" stroke-width="1.25" />
<line x1="432.60" y1="362.20" x2="439.60" y2="362.20" stroke="#3050aa" stroke-width="1.25" />
<line x1="455.90" y1="337.20" x2="455.90" y2="356.60" stroke="#3050aa" stroke-width="1.25" />
<line x1="452.40" y1="337.20" x2="459.40" y2="337.20" stroke="#3050aa" stroke-width="1.25" />
<line x1="452.40" y1="356.60" x2="459.40" y2="356.60" stroke="#3050aa" stroke-width="1.25" />
<polyline points="317.30,359.90 337.10,363.50 416.30,387.00 436.10,380.80 455.90,376.00" fill="none" stroke="#93621c" stroke-width="1.5" stroke-linejoin="round" />
<polyline points="317.30,359.40 337.10,363.50 416.30,355.70 436.10,353.90 455.90,346.90" fill="none" stroke="#1c3c98" stroke-width="1.5" stroke-linejoin="round" />
<circle cx="317.30" cy="359.90" r="2.8" fill="#93621c"/>
<circle cx="337.10" cy="363.50" r="2.8" fill="#93621c"/>
<circle cx="416.30" cy="387.00" r="2.8" fill="#93621c"/>
<circle cx="436.10" cy="380.80" r="2.8" fill="#93621c"/>
<circle cx="455.90" cy="376.00" r="2.8" fill="#93621c"/>
<circle cx="317.30" cy="359.40" r="2.8" fill="#1c3c98"/>
<circle cx="337.10" cy="363.50" r="2.8" fill="#1c3c98"/>
<circle cx="416.30" cy="355.70" r="2.8" fill="#1c3c98"/>
<circle cx="436.10" cy="353.90" r="2.8" fill="#1c3c98"/>
<circle cx="455.90" cy="346.90" r="2.8" fill="#1c3c98"/>
<text x="0.50" y="457.60" font-size="23" fill="#000" stroke="#000" stroke-width="0.35" text-anchor="start" >E</text>
<text x="16.00" y="457.60" font-size="16" fill="#000" stroke="#000" stroke-width="0.35" text-anchor="start" >i</text>
<line x1="51.20" y1="459.50" x2="51.20" y2="533.80" stroke="#2a2a2a" stroke-width="1.4" />
<line x1="46.60" y1="460.80" x2="51.20" y2="460.80" stroke="#2a2a2a" stroke-width="1.3" />
<text x="45.00" y="464.70" font-size="10.6" fill="#000" stroke="#000" stroke-width="0.35" text-anchor="end" >5</text>
<line x1="46.60" y1="475.16" x2="51.20" y2="475.16" stroke="#2a2a2a" stroke-width="1.3" />
<text x="45.00" y="479.06" font-size="10.6" fill="#000" stroke="#000" stroke-width="0.35" text-anchor="end" >4</text>
<line x1="46.60" y1="489.52" x2="51.20" y2="489.52" stroke="#2a2a2a" stroke-width="1.3" />
<text x="45.00" y="493.42" font-size="10.6" fill="#000" stroke="#000" stroke-width="0.35" text-anchor="end" >3</text>
<line x1="46.60" y1="503.88" x2="51.20" y2="503.88" stroke="#2a2a2a" stroke-width="1.3" />
<text x="45.00" y="507.78" font-size="10.6" fill="#000" stroke="#000" stroke-width="0.35" text-anchor="end" >2</text>
<line x1="46.60" y1="518.24" x2="51.20" y2="518.24" stroke="#2a2a2a" stroke-width="1.3" />
<path d="M0.392,0 L0.252,0 L0.252,-0.512 Q0.16,-0.45 0.052,-0.425 L0.052,-0.55 Q0.2,-0.6 0.285,-0.716 L0.392,-0.716 Z" transform="translate(39.10,522.14) scale(10.6)" fill="#000" stroke="#000" stroke-width="0.0330"/>
<line x1="46.60" y1="532.60" x2="51.20" y2="532.60" stroke="#2a2a2a" stroke-width="1.3" />
<text x="45.00" y="536.50" font-size="10.6" fill="#000" stroke="#000" stroke-width="0.35" text-anchor="end" >0</text>
<text transform="translate(21.2,501.1) rotate(-90)" font-size="13.9" fill="#000" stroke="#000" stroke-width="0.35" text-anchor="middle">Pro. Vel.</text>
<text transform="translate(33.6,499.2) rotate(-90)" font-size="13.9" fill="#000" stroke="#000" stroke-width="0.35" text-anchor="middle">[mm / Min]</text>
<line x1="63.50" y1="543.20" x2="227.40" y2="543.20" stroke="#2a2a2a" stroke-width="1.4" />
<line x1="73.80" y1="543.20" x2="73.80" y2="547.00" stroke="#2a2a2a" stroke-width="1.3" />
<line x1="94.16" y1="543.20" x2="94.16" y2="547.00" stroke="#2a2a2a" stroke-width="1.3" />
<line x1="114.52" y1="543.20" x2="114.52" y2="547.00" stroke="#2a2a2a" stroke-width="1.3" />
<line x1="134.88" y1="543.20" x2="134.88" y2="547.00" stroke="#2a2a2a" stroke-width="1.3" />
<line x1="155.24" y1="543.20" x2="155.24" y2="547.00" stroke="#2a2a2a" stroke-width="1.3" />
<line x1="175.60" y1="543.20" x2="175.60" y2="547.00" stroke="#2a2a2a" stroke-width="1.3" />
<line x1="195.96" y1="543.20" x2="195.96" y2="547.00" stroke="#2a2a2a" stroke-width="1.3" />
<line x1="216.32" y1="543.20" x2="216.32" y2="547.00" stroke="#2a2a2a" stroke-width="1.3" />
<path d="M0.392,0 L0.252,0 L0.252,-0.512 Q0.16,-0.45 0.052,-0.425 L0.052,-0.55 Q0.2,-0.6 0.285,-0.716 L0.392,-0.716 Z" transform="translate(70.77,557.00) scale(10.9)" fill="#000" stroke="#000" stroke-width="0.0321"/>
<text x="94.16" y="557.00" font-size="10.9" fill="#000" stroke="#000" stroke-width="0.35" text-anchor="middle" >2</text>
<text x="114.52" y="557.00" font-size="10.9" fill="#000" stroke="#000" stroke-width="0.35" text-anchor="middle" >3</text>
<text x="134.88" y="557.00" font-size="10.9" fill="#000" stroke="#000" stroke-width="0.35" text-anchor="middle" >4</text>
<text x="155.24" y="557.00" font-size="10.9" fill="#000" stroke="#000" stroke-width="0.35" text-anchor="middle" >5</text>
<text x="175.60" y="557.00" font-size="10.9" fill="#000" stroke="#000" stroke-width="0.35" text-anchor="middle" >6</text>
<text x="195.96" y="557.00" font-size="10.9" fill="#000" stroke="#000" stroke-width="0.35" text-anchor="middle" >7</text>
<text x="216.32" y="557.00" font-size="10.9" fill="#000" stroke="#000" stroke-width="0.35" text-anchor="middle" >8</text>
<text x="141.40" y="571.20" font-size="13.6" fill="#000" stroke="#000" stroke-width="0.35" text-anchor="middle" >Stimulation #</text>
<line x1="51.50" y1="532.10" x2="225.80" y2="532.10" stroke="#6a6a6a" stroke-width="1.1" stroke-dasharray="1.2 1.25"/>
<line x1="73.80" y1="472.80" x2="73.80" y2="499.20" stroke="#a57b3b" stroke-width="1.25" />
<line x1="70.30" y1="472.80" x2="77.30" y2="472.80" stroke="#a57b3b" stroke-width="1.25" />
<line x1="70.30" y1="499.20" x2="77.30" y2="499.20" stroke="#a57b3b" stroke-width="1.25" />
<line x1="94.16" y1="469.30" x2="94.16" y2="498.90" stroke="#a57b3b" stroke-width="1.25" />
<line x1="90.66" y1="469.30" x2="97.66" y2="469.30" stroke="#a57b3b" stroke-width="1.25" />
<line x1="90.66" y1="498.90" x2="97.66" y2="498.90" stroke="#a57b3b" stroke-width="1.25" />
<line x1="155.24" y1="499.90" x2="155.24" y2="520.10" stroke="#a57b3b" stroke-width="1.25" />
<line x1="151.74" y1="499.90" x2="158.74" y2="499.90" stroke="#a57b3b" stroke-width="1.25" />
<line x1="151.74" y1="520.10" x2="158.74" y2="520.10" stroke="#a57b3b" stroke-width="1.25" />
<line x1="175.60" y1="493.70" x2="175.60" y2="510.50" stroke="#a57b3b" stroke-width="1.25" />
<line x1="172.10" y1="493.70" x2="179.10" y2="493.70" stroke="#a57b3b" stroke-width="1.25" />
<line x1="172.10" y1="510.50" x2="179.10" y2="510.50" stroke="#a57b3b" stroke-width="1.25" />
<line x1="195.96" y1="492.90" x2="195.96" y2="508.10" stroke="#a57b3b" stroke-width="1.25" />
<line x1="192.46" y1="492.90" x2="199.46" y2="492.90" stroke="#a57b3b" stroke-width="1.25" />
<line x1="192.46" y1="508.10" x2="199.46" y2="508.10" stroke="#a57b3b" stroke-width="1.25" />
<line x1="216.32" y1="492.40" x2="216.32" y2="507.40" stroke="#a57b3b" stroke-width="1.25" />
<line x1="212.82" y1="492.40" x2="219.82" y2="492.40" stroke="#a57b3b" stroke-width="1.25" />
<line x1="212.82" y1="507.40" x2="219.82" y2="507.40" stroke="#a57b3b" stroke-width="1.25" />
<polyline points="73.80,486.00 94.16,484.10 114.52,478.40 134.88,522.00 155.24,510.00 175.60,502.10 195.96,500.50 216.32,499.90" fill="none" stroke="#93621c" stroke-width="1.5" stroke-linejoin="round" />
<polyline points="73.80,489.60 94.16,488.40 114.52,490.10 134.88,489.50 155.24,489.50 175.60,488.20 195.96,488.20 216.32,488.50" fill="none" stroke="#1c3c98" stroke-width="1.5" stroke-linejoin="round" />
<circle cx="73.80" cy="486.00" r="2.8" fill="#93621c"/>
<circle cx="94.16" cy="484.10" r="2.8" fill="#93621c"/>
<circle cx="114.52" cy="478.40" r="2.8" fill="#93621c"/>
<circle cx="134.88" cy="522.00" r="2.8" fill="#93621c"/>
<circle cx="155.24" cy="510.00" r="2.8" fill="#93621c"/>
<circle cx="175.60" cy="502.10" r="2.8" fill="#93621c"/>
<circle cx="195.96" cy="500.50" r="2.8" fill="#93621c"/>
<circle cx="216.32" cy="499.90" r="2.8" fill="#93621c"/>
<circle cx="94.16" cy="488.40" r="2.8" fill="#1c3c98"/>
<circle cx="114.52" cy="490.10" r="2.8" fill="#1c3c98"/>
<circle cx="134.88" cy="489.50" r="2.8" fill="#1c3c98"/>
<circle cx="155.24" cy="489.50" r="2.8" fill="#1c3c98"/>
<circle cx="175.60" cy="488.20" r="2.8" fill="#1c3c98"/>
<circle cx="195.96" cy="488.20" r="2.8" fill="#1c3c98"/>
<circle cx="216.32" cy="488.50" r="2.8" fill="#1c3c98"/>
<rect x="71.20" y="486.80" width="5.20" height="5.60" fill="#1c3c98" />
<path d="M0.392,0 L0.252,0 L0.252,-0.512 Q0.16,-0.45 0.052,-0.425 L0.052,-0.55 Q0.2,-0.6 0.285,-0.716 L0.392,-0.716 Z" transform="translate(111.10,541.20) scale(11.5)" fill="#97672a" stroke="#97672a" stroke-width="0.0174"/>
<path d="M0.392,0 L0.252,0 L0.252,-0.512 Q0.16,-0.45 0.052,-0.425 L0.052,-0.55 Q0.2,-0.6 0.285,-0.716 L0.392,-0.716 Z" transform="translate(131.60,541.20) scale(11.5)" fill="#97672a" stroke="#97672a" stroke-width="0.0174"/>
<text x="155.40" y="541.20" font-size="11.5" fill="#97672a" stroke="#97672a" stroke-width="0.2" text-anchor="middle" >2</text>
<text x="231.80" y="457.60" font-size="23" fill="#000" stroke="#000" stroke-width="0.35" text-anchor="start" >E</text>
<text x="247.50" y="457.60" font-size="16" fill="#000" stroke="#000" stroke-width="0.35" text-anchor="start" >ii</text>
<line x1="293.20" y1="456.60" x2="293.20" y2="539.20" stroke="#2a2a2a" stroke-width="1.4" />
<line x1="288.70" y1="470.80" x2="293.20" y2="470.80" stroke="#2a2a2a" stroke-width="1.3" />
<path d="M0.392,0 L0.252,0 L0.252,-0.512 Q0.16,-0.45 0.052,-0.425 L0.052,-0.55 Q0.2,-0.6 0.285,-0.716 L0.392,-0.716 Z" transform="translate(272.64,474.10) scale(10.4)" fill="#000" stroke="#000" stroke-width="0.0337"/>
<text x="278.43" y="474.10" font-size="10.4" fill="#000" stroke="#000" stroke-width="0.35">.0</text>
<line x1="288.70" y1="504.80" x2="293.20" y2="504.80" stroke="#2a2a2a" stroke-width="1.3" />
<text x="287.10" y="508.10" font-size="10.4" fill="#000" stroke="#000" stroke-width="0.35" text-anchor="end" >0.5</text>
<line x1="288.70" y1="538.80" x2="293.20" y2="538.80" stroke="#2a2a2a" stroke-width="1.3" />
<text x="287.10" y="542.10" font-size="10.4" fill="#000" stroke="#000" stroke-width="0.35" text-anchor="end" >0.0</text>
<text transform="translate(252.6,504.5) rotate(-90)" font-size="13.6" fill="#000" stroke="#000" stroke-width="0.35" text-anchor="middle">% Change</text>
<text transform="translate(265.6,502.7) rotate(-90)" font-size="13.6" fill="#000" stroke="#000" stroke-width="0.35" text-anchor="middle">from Baseline</text>
<line x1="307.10" y1="543.60" x2="465.20" y2="543.60" stroke="#2a2a2a" stroke-width="1.4" />
<line x1="317.40" y1="543.60" x2="317.40" y2="547.40" stroke="#2a2a2a" stroke-width="1.3" />
<line x1="336.98" y1="543.60" x2="336.98" y2="547.40" stroke="#2a2a2a" stroke-width="1.3" />
<line x1="356.56" y1="543.60" x2="356.56" y2="547.40" stroke="#2a2a2a" stroke-width="1.3" />
<line x1="376.14" y1="543.60" x2="376.14" y2="547.40" stroke="#2a2a2a" stroke-width="1.3" />
<line x1="395.72" y1="543.60" x2="395.72" y2="547.40" stroke="#2a2a2a" stroke-width="1.3" />
<line x1="415.30" y1="543.60" x2="415.30" y2="547.40" stroke="#2a2a2a" stroke-width="1.3" />
<line x1="434.88" y1="543.60" x2="434.88" y2="547.40" stroke="#2a2a2a" stroke-width="1.3" />
<line x1="454.46" y1="543.60" x2="454.46" y2="547.40" stroke="#2a2a2a" stroke-width="1.3" />
<path d="M0.392,0 L0.252,0 L0.252,-0.512 Q0.16,-0.45 0.052,-0.425 L0.052,-0.55 Q0.2,-0.6 0.285,-0.716 L0.392,-0.716 Z" transform="translate(314.37,556.00) scale(10.9)" fill="#000" stroke="#000" stroke-width="0.0321"/>
<text x="336.98" y="556.00" font-size="10.9" fill="#000" stroke="#000" stroke-width="0.35" text-anchor="middle" >2</text>
<text x="356.56" y="556.00" font-size="10.9" fill="#000" stroke="#000" stroke-width="0.35" text-anchor="middle" >3</text>
<text x="376.14" y="556.00" font-size="10.9" fill="#000" stroke="#000" stroke-width="0.35" text-anchor="middle" >4</text>
<text x="395.72" y="556.00" font-size="10.9" fill="#000" stroke="#000" stroke-width="0.35" text-anchor="middle" >5</text>
<text x="415.30" y="556.00" font-size="10.9" fill="#000" stroke="#000" stroke-width="0.35" text-anchor="middle" >6</text>
<text x="434.88" y="556.00" font-size="10.9" fill="#000" stroke="#000" stroke-width="0.35" text-anchor="middle" >7</text>
<text x="454.46" y="556.00" font-size="10.9" fill="#000" stroke="#000" stroke-width="0.35" text-anchor="middle" >8</text>
<text x="385.80" y="570.80" font-size="13.6" fill="#000" stroke="#000" stroke-width="0.35" text-anchor="middle" >Stimulation #</text>
<line x1="294.00" y1="538.40" x2="465.80" y2="538.40" stroke="#6a6a6a" stroke-width="1.1" stroke-dasharray="1.2 1.25"/>
<line x1="434.88" y1="486.50" x2="434.88" y2="495.10" stroke="#a57b3b" stroke-width="1.25" />
<line x1="431.38" y1="486.50" x2="438.38" y2="486.50" stroke="#a57b3b" stroke-width="1.25" />
<line x1="431.38" y1="495.10" x2="438.38" y2="495.10" stroke="#a57b3b" stroke-width="1.25" />
<line x1="454.46" y1="482.50" x2="454.46" y2="494.50" stroke="#a57b3b" stroke-width="1.25" />
<line x1="450.96" y1="482.50" x2="457.96" y2="482.50" stroke="#a57b3b" stroke-width="1.25" />
<line x1="450.96" y1="494.50" x2="457.96" y2="494.50" stroke="#a57b3b" stroke-width="1.25" />
<line x1="415.30" y1="465.60" x2="415.30" y2="471.60" stroke="#3050aa" stroke-width="1.25" />
<line x1="411.80" y1="465.60" x2="418.80" y2="465.60" stroke="#3050aa" stroke-width="1.25" />
<line x1="411.80" y1="471.60" x2="418.80" y2="471.60" stroke="#3050aa" stroke-width="1.25" />
<line x1="434.88" y1="465.70" x2="434.88" y2="472.10" stroke="#3050aa" stroke-width="1.25" />
<line x1="431.38" y1="465.70" x2="438.38" y2="465.70" stroke="#3050aa" stroke-width="1.25" />
<line x1="431.38" y1="472.10" x2="438.38" y2="472.10" stroke="#3050aa" stroke-width="1.25" />
<line x1="454.46" y1="465.70" x2="454.46" y2="472.10" stroke="#3050aa" stroke-width="1.25" />
<line x1="450.96" y1="465.70" x2="457.96" y2="465.70" stroke="#3050aa" stroke-width="1.25" />
<line x1="450.96" y1="472.10" x2="457.96" y2="472.10" stroke="#3050aa" stroke-width="1.25" />
<polyline points="317.40,471.40 336.98,469.60 415.30,495.00 434.88,490.80 454.46,488.50" fill="none" stroke="#93621c" stroke-width="1.5" stroke-linejoin="round" />
<polyline points="317.40,471.40 336.98,469.60 415.30,468.60 434.88,468.90 454.46,468.90" fill="none" stroke="#1c3c98" stroke-width="1.5" stroke-linejoin="round" />
<circle cx="317.40" cy="471.40" r="2.8" fill="#93621c"/>
<circle cx="336.98" cy="469.60" r="2.8" fill="#93621c"/>
<circle cx="415.30" cy="495.00" r="2.8" fill="#93621c"/>
<circle cx="434.88" cy="490.80" r="2.8" fill="#93621c"/>
<circle cx="454.46" cy="488.50" r="2.8" fill="#93621c"/>
<circle cx="317.40" cy="471.40" r="2.8" fill="#1c3c98"/>
<circle cx="336.98" cy="469.60" r="2.8" fill="#1c3c98"/>
<circle cx="415.30" cy="468.60" r="2.8" fill="#1c3c98"/>
<circle cx="434.88" cy="468.90" r="2.8" fill="#1c3c98"/>
<circle cx="454.46" cy="468.90" r="2.8" fill="#1c3c98"/>
<text x="407.50" y="541.30" font-size="13.5" fill="#93621c" stroke="#93621c" stroke-width="0.35" text-anchor="middle" >*</text>
<text x="415.40" y="541.30" font-size="13.5" fill="#93621c" stroke="#93621c" stroke-width="0.35" text-anchor="middle" >*</text>
<text x="423.30" y="541.30" font-size="13.5" fill="#93621c" stroke="#93621c" stroke-width="0.35" text-anchor="middle" >*</text>
</svg>
</body></html>
